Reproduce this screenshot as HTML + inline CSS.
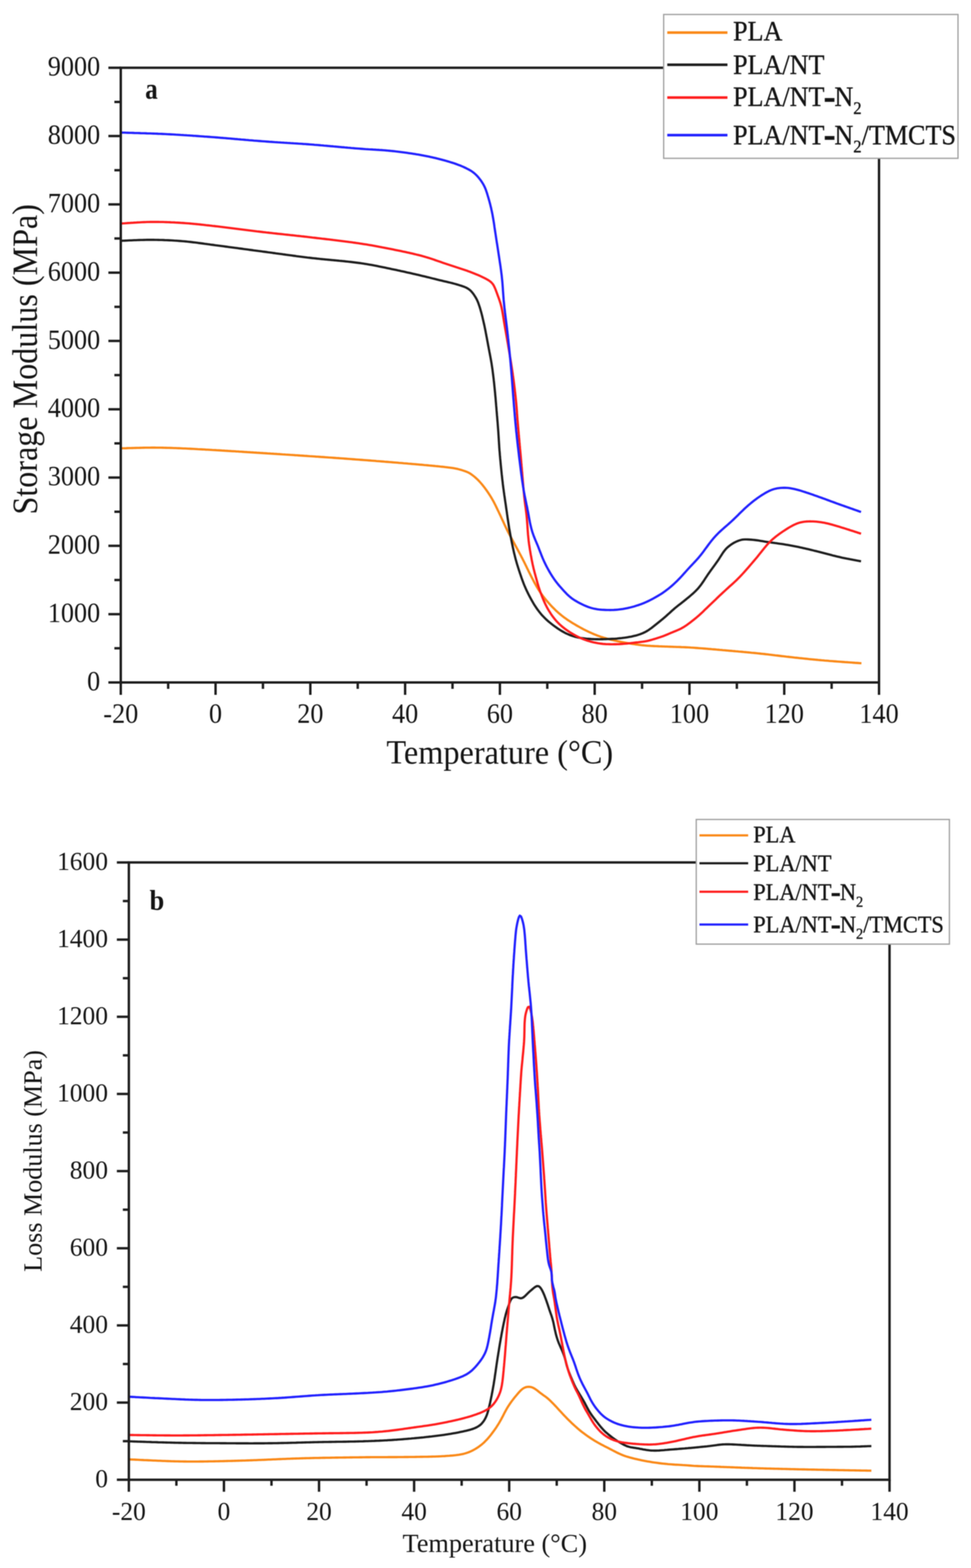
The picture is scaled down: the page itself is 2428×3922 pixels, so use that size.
<!DOCTYPE html>
<html><head><meta charset="utf-8"><title>Storage and loss modulus vs temperature</title>
<style>
html,body{margin:0;padding:0;background:#fff;}
body{width:2428px;height:3922px;overflow:hidden;}
svg{display:block;filter:blur(1.3px);font-family:"Liberation Serif","Times New Roman",serif;}
text{fill:#141414;}
</style></head><body>
<svg xmlns="http://www.w3.org/2000/svg" width="2428" height="3922" viewBox="0 0 2428 3922">
<rect width="2428" height="3922" fill="#fff"/>
<path d="M303 1121.4L307 1121.3 311 1121.2 315 1121.1 319 1120.9 323 1120.8 327 1120.7 331 1120.6 335 1120.5 339 1120.4 343 1120.3 347 1120.2 351 1120.1 355 1120 359 1119.9 363 1119.8 367 1119.8 371 1119.7 375 1119.7 379 1119.6 383 1119.6 387 1119.6 391 1119.7 395 1119.7 399 1119.7 403 1119.8 407 1119.9 410.9 1120 414.9 1120.1 418.9 1120.2 422.9 1120.3 426.9 1120.4 430.9 1120.5 434.9 1120.7 438.9 1120.8 442.9 1121 446.9 1121.1 450.9 1121.3 454.9 1121.5 458.9 1121.7 462.9 1121.8 466.9 1122 470.9 1122.2 474.9 1122.4 478.9 1122.6 482.9 1122.8 486.9 1123 490.9 1123.2 494.9 1123.5 498.8 1123.7 502.8 1123.9 506.8 1124.1 510.8 1124.3 514.8 1124.6 518.8 1124.8 522.8 1125 526.8 1125.2 530.8 1125.5 534.8 1125.7 538.8 1125.9 542.8 1126.2 546.8 1126.4 550.7 1126.6 554.7 1126.9 558.7 1127.1 562.7 1127.4 566.7 1127.6 570.7 1127.9 574.7 1128.1 578.7 1128.4 582.7 1128.6 586.7 1128.8 590.7 1129.1 594.7 1129.3 598.6 1129.6 602.6 1129.8 606.6 1130.1 610.6 1130.4 614.6 1130.6 618.6 1130.9 622.6 1131.1 626.6 1131.4 630.6 1131.6 634.6 1131.9 638.6 1132.1 642.5 1132.4 646.5 1132.6 650.5 1132.9 654.5 1133.1 658.5 1133.4 662.5 1133.6 666.5 1133.9 670.5 1134.2 674.5 1134.4 678.5 1134.7 682.5 1134.9 686.4 1135.2 690.4 1135.4 694.4 1135.7 698.4 1135.9 702.4 1136.2 706.4 1136.5 710.4 1136.7 714.4 1137 718.4 1137.2 722.4 1137.5 726.4 1137.8 730.3 1138 734.3 1138.3 738.3 1138.6 742.3 1138.8 746.3 1139.1 750.3 1139.4 754.3 1139.6 758.3 1139.9 762.3 1140.2 766.3 1140.4 770.2 1140.7 774.2 1141 778.2 1141.2 782.2 1141.5 786.2 1141.8 790.2 1142.1 794.2 1142.3 798.2 1142.6 802.2 1142.9 806.2 1143.1 810.1 1143.4 814.1 1143.7 818.1 1144 822.1 1144.3 826.1 1144.5 830.1 1144.8 834.1 1145.1 838.1 1145.4 842.1 1145.7 846 1145.9 850 1146.2 854 1146.5 858 1146.8 862 1147.1 866 1147.4 870 1147.7 874 1148 878 1148.3 881.9 1148.6 885.9 1148.9 889.9 1149.2 893.9 1149.5 897.9 1149.8 901.9 1150.1 905.9 1150.4 909.9 1150.7 913.8 1151 917.8 1151.3 921.8 1151.6 925.8 1151.9 929.8 1152.2 933.8 1152.5 937.8 1152.8 941.7 1153.2 945.7 1153.5 949.7 1153.8 953.7 1154.1 957.7 1154.4 961.7 1154.8 965.7 1155.1 969.7 1155.4 973.6 1155.7 977.6 1156 981.6 1156.4 985.6 1156.7 989.6 1157 993.6 1157.3 997.6 1157.7 1001.5 1158 1005.5 1158.3 1009.5 1158.7 1013.5 1159 1017.5 1159.3 1021.5 1159.7 1025.4 1160 1029.4 1160.4 1033.4 1160.7 1037.4 1161 1041.4 1161.4 1045.4 1161.7 1049.4 1162.1 1053.3 1162.4 1057.3 1162.8 1061.3 1163.2 1065.3 1163.5 1069.3 1163.9 1073.2 1164.3 1077.2 1164.6 1081.2 1165 1085.2 1165.4 1089.2 1165.8 1093.2 1166.1 1097.1 1166.5 1101.1 1167 1105.1 1167.4 1109.1 1167.8 1113 1168.3 1117 1168.7 1121 1169.2 1124.9 1169.7 1128.9 1170.2 1132.9 1170.8 1136.8 1171.5 1140.7 1172.2 1144.6 1173.1 1148.5 1174.1 1152.4 1175.2 1156.2 1176.4 1160 1177.6 1163.8 1178.9 1167.5 1180.3 1171.2 1182 1174.7 1183.9 1178 1186.1 1181.2 1188.4 1184.4 1190.9 1187.5 1193.4 1190.5 1196.1 1193.4 1198.8 1196.2 1201.6 1199 1204.5 1201.7 1207.5 1204.3 1210.5 1206.8 1213.6 1209.3 1216.7 1211.8 1219.9 1214.1 1223.1 1216.5 1226.3 1218.8 1229.6 1221 1232.9 1223.2 1236.3 1225.4 1239.6 1227.5 1243 1229.6 1246.5 1231.5 1249.9 1233.5 1253.4 1235.4 1256.9 1237.2 1260.5 1239 1264.1 1240.8 1267.7 1242.5 1271.3 1244.2 1274.9 1246 1278.5 1247.7 1282.1 1249.4 1285.7 1251.1 1289.3 1252.8 1293 1254.4 1296.6 1256.1 1300.2 1257.8 1303.8 1259.5 1307.5 1261.1 1311.1 1262.8 1314.7 1264.5 1318.4 1266.3 1322 1268 1325.6 1269.8 1329.1 1271.6 1332.7 1273.5 1336.2 1275.4 1339.8 1277.3 1343.3 1279.2 1346.8 1281.1 1350.3 1283 1353.8 1284.9 1357.3 1286.8 1360.8 1288.7 1364.4 1290.6 1367.9 1292.5 1371.4 1294.4 1374.9 1296.3 1378.4 1298.2 1382 1300.1 1385.5 1302 1389 1303.8 1392.6 1305.7 1396.1 1307.5 1399.7 1309.3 1403.2 1311.1 1406.8 1312.9 1410.4 1314.6 1414 1316.4 1417.6 1318.1 1421.2 1319.9 1424.8 1321.6 1428.4 1323.4 1432 1325.2 1435.6 1327 1439.1 1328.8 1442.7 1330.6 1446.2 1332.5 1449.8 1334.3 1453.3 1336.2 1456.8 1338.1 1460.4 1340.1 1463.8 1342 1467.3 1344.1 1470.8 1346.1 1474.2 1348.3 1477.6 1350.5 1480.9 1352.7 1484.2 1355.1 1487.5 1357.4 1490.7 1359.9 1493.8 1362.4 1497 1364.9 1500.1 1367.5 1503.1 1370.1 1506.1 1372.8 1509.1 1375.4 1512.1 1378.2 1515.1 1380.9 1518 1383.7 1520.8 1386.5 1523.6 1389.4 1526.4 1392.3 1529.2 1395.3 1531.8 1398.3 1534.5 1401.4 1537 1404.5 1539.6 1407.6 1542 1410.8 1544.4 1414.1 1546.8 1417.3 1549.1 1420.6 1551.3 1424 1553.5 1427.3 1555.7 1430.7 1557.8 1434.1 1559.9 1437.6 1561.9 1441 1564 1444.5 1566 1448 1567.9 1451.5 1569.9 1455 1571.8 1458.5 1573.7 1462.1 1575.5 1465.6 1577.3 1469.2 1579 1472.8 1580.8 1476.5 1582.4 1480.1 1584 1483.8 1585.6 1487.5 1587.2 1491.2 1588.6 1494.9 1590.1 1498.7 1591.4 1502.5 1592.8 1506.3 1594 1510.1 1595.2 1513.9 1596.3 1517.8 1597.4 1521.6 1598.5 1525.5 1599.5 1529.4 1600.4 1533.3 1601.3 1537.2 1602.2 1541.1 1603.1 1545 1604 1548.9 1604.8 1552.8 1605.6 1556.7 1606.3 1560.7 1607.1 1564.6 1607.8 1568.6 1608.5 1572.5 1609.1 1576.4 1609.8 1580.4 1610.4 1584.4 1611 1588.3 1611.6 1592.3 1612.1 1596.2 1612.7 1600.2 1613.2 1604.2 1613.7 1608.1 1614.1 1612.1 1614.5 1616.1 1614.9 1620.1 1615.2 1624.1 1615.4 1628.1 1615.7 1632.1 1615.9 1636.1 1616.1 1640.1 1616.3 1644 1616.4 1648 1616.6 1652 1616.7 1656 1616.9 1660 1617 1664 1617.2 1668 1617.3 1672 1617.5 1676 1617.6 1680 1617.7 1684 1617.9 1688 1618 1692 1618.2 1696 1618.3 1700 1618.4 1704 1618.6 1708 1618.7 1712 1618.9 1716 1619.1 1720 1619.3 1724 1619.5 1728 1619.8 1731.9 1620 1735.9 1620.3 1739.9 1620.6 1743.9 1620.9 1747.9 1621.2 1751.9 1621.5 1755.9 1621.8 1759.9 1622.1 1763.9 1622.4 1767.8 1622.7 1771.8 1623.1 1775.8 1623.4 1779.8 1623.8 1783.8 1624.1 1787.8 1624.4 1791.7 1624.8 1795.7 1625.1 1799.7 1625.5 1803.7 1625.8 1807.7 1626.2 1811.7 1626.5 1815.6 1626.9 1819.6 1627.2 1823.6 1627.6 1827.6 1627.9 1831.6 1628.3 1835.6 1628.6 1839.5 1629 1843.5 1629.3 1847.5 1629.7 1851.5 1630 1855.5 1630.4 1859.5 1630.8 1863.4 1631.1 1867.4 1631.5 1871.4 1631.9 1875.4 1632.3 1879.4 1632.7 1883.3 1633 1887.3 1633.4 1891.3 1633.8 1895.3 1634.2 1899.3 1634.6 1903.2 1635.1 1907.2 1635.5 1911.2 1635.9 1915.2 1636.4 1919.1 1636.8 1923.1 1637.3 1927.1 1637.7 1931.1 1638.2 1935 1638.7 1939 1639.2 1943 1639.6 1946.9 1640.1 1950.9 1640.6 1954.9 1641.1 1958.9 1641.5 1962.8 1642 1966.8 1642.5 1970.8 1642.9 1974.7 1643.4 1978.7 1643.8 1982.7 1644.2 1986.7 1644.7 1990.6 1645.1 1994.6 1645.5 1998.6 1646 2002.6 1646.4 2006.5 1646.8 2010.5 1647.2 2014.5 1647.6 2018.5 1648 2022.5 1648.5 2026.4 1648.9 2030.4 1649.2 2034.4 1649.6 2038.4 1650 2042.4 1650.4 2046.3 1650.8 2050.3 1651.1 2054.3 1651.5 2058.3 1651.8 2062.3 1652.2 2066.3 1652.5 2070.2 1652.8 2074.2 1653.2 2078.2 1653.5 2082.2 1653.8 2086.2 1654.1 2090.2 1654.4 2094.2 1654.7 2098.2 1655 2102.1 1655.3 2106.1 1655.6 2110.1 1655.9 2114.1 1656.2 2118.1 1656.4 2122.1 1656.7 2126.1 1657 2130.1 1657.3 2134.1 1657.6 2138 1657.9 2142 1658.1 2146 1658.4 2150 1658.7 2154 1659" fill="none" stroke="#fa8816" stroke-width="5.6" stroke-linejoin="round"/>
<path d="M304 602.2L308 602 312 601.9 316 601.7 320 601.5 324 601.3 328 601.2 332 601 336 600.8 340 600.7 344 600.5 348 600.4 352 600.3 356 600.2 360 600.1 364 600 368 599.9 372 599.9 376 599.9 380 599.9 384 599.9 388 600 392 600 396 600.1 400 600.2 404 600.3 408 600.4 412 600.6 416 600.7 420 600.9 423.9 601.1 427.9 601.3 431.9 601.5 435.9 601.8 439.9 602 443.9 602.3 447.9 602.6 451.9 602.9 455.9 603.2 459.9 603.5 463.8 603.9 467.8 604.3 471.8 604.7 475.8 605.1 479.8 605.6 483.7 606.1 487.7 606.5 491.7 607 495.6 607.6 499.6 608.1 503.6 608.6 507.5 609.1 511.5 609.7 515.5 610.2 519.4 610.8 523.4 611.3 527.4 611.9 531.3 612.4 535.3 612.9 539.2 613.5 543.2 614 547.2 614.5 551.1 615 555.1 615.5 559.1 616.1 563 616.6 567 617.1 571 617.7 574.9 618.2 578.9 618.7 582.9 619.2 586.8 619.8 590.8 620.3 594.8 620.8 598.7 621.4 602.7 621.9 606.7 622.4 610.6 623 614.6 623.5 618.6 624 622.5 624.6 626.5 625.1 630.4 625.6 634.4 626.2 638.4 626.7 642.3 627.2 646.3 627.8 650.3 628.3 654.2 628.8 658.2 629.4 662.2 629.9 666.1 630.4 670.1 631 674.1 631.5 678 632 682 632.6 686 633.1 689.9 633.7 693.9 634.2 697.8 634.8 701.8 635.3 705.8 635.8 709.7 636.4 713.7 636.9 717.7 637.5 721.6 638 725.6 638.5 729.6 639.1 733.5 639.6 737.5 640.1 741.4 640.7 745.4 641.2 749.4 641.7 753.4 642.2 757.3 642.7 761.3 643.2 765.3 643.7 769.2 644.2 773.2 644.6 777.2 645.1 781.1 645.6 785.1 646 789.1 646.4 793.1 646.9 797.1 647.3 801 647.7 805 648.1 809 648.5 813 648.9 817 649.2 820.9 649.6 824.9 650 828.9 650.4 832.9 650.7 836.9 651.1 840.9 651.5 844.8 651.9 848.8 652.3 852.8 652.6 856.8 653 860.8 653.4 864.7 653.9 868.7 654.3 872.7 654.7 876.7 655.1 880.7 655.6 884.6 656.1 888.6 656.6 892.6 657.1 896.5 657.6 900.5 658.1 904.5 658.7 908.4 659.3 912.4 659.9 916.3 660.6 920.3 661.2 924.2 661.9 928.1 662.6 932.1 663.3 936 664.1 939.9 664.8 943.8 665.6 947.8 666.4 951.7 667.2 955.6 668 959.5 668.8 963.5 669.6 967.4 670.4 971.3 671.2 975.2 672 979.1 672.9 983 673.7 986.9 674.5 990.9 675.3 994.8 676.2 998.7 677 1002.6 677.9 1006.5 678.7 1010.4 679.6 1014.3 680.5 1018.2 681.4 1022.1 682.2 1026 683.1 1029.9 684 1033.8 684.9 1037.7 685.8 1041.6 686.7 1045.5 687.6 1049.4 688.5 1053.3 689.5 1057.2 690.4 1061.1 691.3 1065 692.2 1068.8 693.2 1072.7 694.1 1076.6 695.1 1080.5 696.1 1084.4 697.1 1088.3 698 1092.1 699 1096 700 1099.9 700.9 1103.8 701.8 1107.7 702.8 1111.6 703.7 1115.5 704.6 1119.4 705.5 1123.3 706.4 1127.2 707.4 1131 708.3 1134.9 709.4 1138.8 710.4 1142.6 711.5 1146.5 712.6 1150.3 713.8 1154.1 715 1157.9 716.3 1161.6 717.7 1165.3 719.3 1168.8 721.2 1172.2 723.4 1175.3 725.8 1178.2 728.6 1180.9 731.6 1183.3 734.7 1185.6 738 1187.8 741.4 1189.9 744.8 1191.8 748.3 1193.5 751.9 1195.1 755.6 1196.5 759.3 1197.8 763.1 1199.1 766.9 1200.3 770.7 1201.4 774.5 1202.5 778.4 1203.6 782.3 1204.6 786.1 1205.6 790 1206.5 793.9 1207.4 797.8 1208.3 801.7 1209.2 805.6 1210.1 809.5 1211 813.4 1211.8 817.3 1212.6 821.2 1213.4 825.1 1214.2 829.1 1214.9 833 1215.7 836.9 1216.4 840.9 1217.2 844.8 1217.9 848.7 1218.6 852.6 1219.4 856.6 1220.1 860.5 1220.8 864.4 1221.6 868.4 1222.3 872.3 1223.1 876.2 1223.8 880.2 1224.6 884.1 1225.3 888 1226.1 892 1226.8 895.9 1227.5 899.8 1228.2 903.8 1228.9 907.7 1229.5 911.7 1230.1 915.6 1230.7 919.6 1231.3 923.5 1231.8 927.5 1232.3 931.5 1232.8 935.4 1233.3 939.4 1233.8 943.4 1234.3 947.3 1234.7 951.3 1235.2 955.3 1235.6 959.3 1236 963.2 1236.4 967.2 1236.8 971.2 1237.2 975.2 1237.6 979.2 1238 983.2 1238.3 987.1 1238.7 991.1 1239.1 995.1 1239.4 999.1 1239.7 1003.1 1240.1 1007.1 1240.4 1011 1240.7 1015 1241.1 1019 1241.4 1023 1241.7 1027 1242.1 1031 1242.4 1035 1242.7 1039 1243.1 1042.9 1243.4 1046.9 1243.7 1050.9 1244.1 1054.9 1244.4 1058.9 1244.7 1062.9 1245 1066.9 1245.3 1070.9 1245.6 1074.8 1245.9 1078.8 1246.2 1082.8 1246.4 1086.8 1246.7 1090.8 1246.9 1094.8 1247.2 1098.8 1247.4 1102.8 1247.7 1106.8 1247.9 1110.8 1248.2 1114.8 1248.4 1118.8 1248.7 1122.7 1249 1126.7 1249.4 1130.7 1249.7 1134.7 1250 1138.7 1250.4 1142.7 1250.7 1146.7 1251.1 1150.6 1251.5 1154.6 1251.8 1158.6 1252.2 1162.6 1252.6 1166.6 1253 1170.6 1253.4 1174.5 1253.8 1178.5 1254.2 1182.5 1254.6 1186.5 1255.1 1190.5 1255.5 1194.4 1255.9 1198.4 1256.4 1202.4 1256.9 1206.4 1257.3 1210.3 1257.8 1214.3 1258.3 1218.3 1258.8 1222.2 1259.4 1226.2 1259.9 1230.2 1260.5 1234.1 1261 1238.1 1261.6 1242 1262.2 1246 1262.7 1250 1263.3 1253.9 1263.9 1257.9 1264.5 1261.8 1265.1 1265.8 1265.6 1269.8 1266.2 1273.7 1266.8 1277.7 1267.4 1281.6 1267.9 1285.6 1268.5 1289.6 1269 1293.5 1269.6 1297.5 1270.2 1301.4 1270.8 1305.4 1271.4 1309.3 1272 1313.3 1272.6 1317.3 1273.2 1321.2 1273.9 1325.1 1274.6 1329.1 1275.3 1333 1276 1337 1276.7 1340.9 1277.5 1344.8 1278.2 1348.8 1279 1352.7 1279.8 1356.6 1280.6 1360.5 1281.4 1364.4 1282.2 1368.4 1283.1 1372.3 1283.9 1376.2 1284.8 1380.1 1285.7 1384 1286.7 1387.9 1287.6 1391.7 1288.6 1395.6 1289.6 1399.5 1290.7 1403.3 1291.8 1407.2 1292.9 1411 1294.1 1414.8 1295.3 1418.7 1296.5 1422.5 1297.7 1426.3 1299 1430.1 1300.2 1433.9 1301.5 1437.7 1302.8 1441.5 1304.1 1445.3 1305.4 1449 1306.8 1452.8 1308.2 1456.5 1309.6 1460.3 1311.1 1464 1312.7 1467.7 1314.3 1471.3 1315.9 1475 1317.6 1478.6 1319.4 1482.2 1321.1 1485.8 1322.9 1489.3 1324.8 1492.9 1326.7 1496.4 1328.6 1499.9 1330.6 1503.4 1332.6 1506.9 1334.6 1510.3 1336.7 1513.7 1338.9 1517.1 1341.1 1520.4 1343.4 1523.7 1345.8 1526.9 1348.2 1530.1 1350.7 1533.2 1353.2 1536.3 1355.9 1539.3 1358.6 1542.2 1361.4 1545.1 1364.3 1547.9 1367.2 1550.6 1370.2 1553.3 1373.2 1555.9 1376.3 1558.4 1379.4 1560.9 1382.6 1563.4 1385.8 1565.8 1389 1568.1 1392.3 1570.4 1395.6 1572.7 1399 1574.9 1402.3 1577 1405.8 1579 1409.3 1581 1412.8 1582.9 1416.4 1584.7 1420 1586.3 1423.7 1587.9 1427.4 1589.4 1431.2 1590.7 1435 1591.9 1438.9 1593 1442.7 1593.9 1446.7 1594.7 1450.6 1595.4 1454.5 1596.1 1458.5 1596.6 1462.5 1597.1 1466.5 1597.5 1470.4 1597.8 1474.4 1598.1 1478.4 1598.4 1482.4 1598.6 1486.4 1598.8 1490.4 1598.9 1494.4 1598.9 1498.4 1599 1502.4 1598.9 1506.4 1598.9 1510.4 1598.7 1514.4 1598.6 1518.4 1598.5 1522.4 1598.3 1526.4 1598.1 1530.4 1597.9 1534.4 1597.7 1538.4 1597.5 1542.4 1597.2 1546.4 1596.8 1550.3 1596.4 1554.3 1596 1558.3 1595.5 1562.3 1595 1566.2 1594.4 1570.2 1593.8 1574.1 1593.1 1578 1592.4 1582 1591.5 1585.9 1590.6 1589.7 1589.7 1593.6 1588.6 1597.4 1587.4 1601.2 1586.1 1604.9 1584.7 1608.6 1583.1 1612.2 1581.4 1615.8 1579.5 1619.2 1577.5 1622.6 1575.3 1625.8 1573 1629.1 1570.7 1632.2 1568.2 1635.4 1565.8 1638.5 1563.3 1641.7 1560.8 1644.8 1558.3 1647.9 1555.8 1651 1553.3 1654.1 1550.7 1657.2 1548.2 1660.2 1545.6 1663.3 1543 1666.3 1540.3 1669.2 1537.7 1672.2 1535 1675.2 1532.3 1678.1 1529.6 1681.1 1526.9 1684.1 1524.3 1687.1 1521.6 1690.2 1519.1 1693.3 1516.6 1696.4 1514.1 1699.6 1511.7 1702.8 1509.2 1705.9 1506.8 1709.1 1504.3 1712.2 1501.8 1715.3 1499.3 1718.4 1496.7 1721.5 1494.2 1724.6 1491.6 1727.6 1489 1730.6 1486.4 1733.6 1483.8 1736.6 1481 1739.4 1478.3 1742.2 1475.4 1745 1472.5 1747.6 1469.4 1750.1 1466.3 1752.5 1463.2 1754.9 1459.9 1757.1 1456.6 1759.4 1453.3 1761.6 1450 1763.8 1446.6 1766 1443.3 1768.2 1440 1770.4 1436.6 1772.7 1433.3 1775 1430.1 1777.3 1426.8 1779.7 1423.6 1782 1420.4 1784.4 1417.1 1786.8 1413.9 1789.1 1410.7 1791.4 1407.4 1793.7 1404.1 1796 1400.8 1798.2 1397.5 1800.3 1394.1 1802.5 1390.7 1804.6 1387.4 1806.8 1384 1809.1 1380.7 1811.5 1377.5 1814 1374.4 1816.7 1371.5 1819.6 1368.7 1822.7 1366.2 1825.9 1363.7 1829.2 1361.4 1832.5 1359.3 1836 1357.3 1839.6 1355.5 1843.2 1353.8 1846.9 1352.3 1850.7 1351.1 1854.6 1350.1 1858.5 1349.5 1862.5 1349.3 1866.5 1349.2 1870.5 1349.4 1874.5 1349.6 1878.5 1349.9 1882.5 1350.2 1886.5 1350.6 1890.5 1351.1 1894.4 1351.6 1898.4 1352.3 1902.3 1352.9 1906.3 1353.6 1910.2 1354.2 1914.2 1354.9 1918.1 1355.5 1922.1 1356 1926 1356.6 1930 1357.2 1934 1357.7 1937.9 1358.3 1941.9 1358.8 1945.8 1359.4 1949.8 1360 1953.8 1360.5 1957.7 1361.1 1961.7 1361.8 1965.6 1362.4 1969.6 1363 1973.5 1363.7 1977.4 1364.4 1981.4 1365.2 1985.3 1365.9 1989.2 1366.7 1993.2 1367.5 1997.1 1368.3 2001 1369.2 2004.9 1370 2008.8 1370.9 2012.7 1371.8 2016.6 1372.7 2020.5 1373.6 2024.4 1374.5 2028.3 1375.5 2032.1 1376.4 2036 1377.4 2039.9 1378.3 2043.8 1379.3 2047.7 1380.2 2051.6 1381.2 2055.4 1382.2 2059.3 1383.2 2063.2 1384.2 2067 1385.3 2070.9 1386.3 2074.8 1387.3 2078.6 1388.3 2082.5 1389.4 2086.4 1390.3 2090.3 1391.3 2094.2 1392.2 2098.1 1393.1 2102 1394 2105.9 1394.9 2109.8 1395.7 2113.7 1396.5 2117.6 1397.3 2121.6 1398 2125.5 1398.8 2129.4 1399.5 2133.3 1400.3 2137.3 1401 2141.2 1401.8 2145.1 1402.5 2149.1 1403.3 2153 1404" fill="none" stroke="#1c1c1c" stroke-width="5.6" stroke-linejoin="round"/>
<path d="M304 559L308 558.7 312 558.5 316 558.2 320 557.9 324 557.7 327.9 557.4 331.9 557.2 335.9 556.9 339.9 556.7 343.9 556.4 347.9 556.2 351.9 556 355.9 555.8 359.9 555.6 363.9 555.5 367.9 555.3 371.9 555.2 375.9 555.1 379.9 555.1 383.9 555.1 387.9 555 391.9 555.1 395.9 555.1 399.9 555.2 403.9 555.2 407.9 555.3 411.9 555.5 415.9 555.6 419.9 555.7 423.9 555.9 427.9 556.1 431.9 556.2 435.9 556.4 439.8 556.7 443.8 556.9 447.8 557.1 451.8 557.4 455.8 557.6 459.8 557.9 463.8 558.2 467.8 558.5 471.8 558.8 475.8 559.1 479.7 559.5 483.7 559.9 487.7 560.2 491.7 560.6 495.7 561 499.6 561.4 503.6 561.9 507.6 562.3 511.6 562.7 515.6 563.2 519.5 563.6 523.5 564 527.5 564.5 531.4 565 535.4 565.4 539.4 565.9 543.4 566.3 547.3 566.8 551.3 567.3 555.3 567.7 559.3 568.2 563.2 568.7 567.2 569.2 571.2 569.7 575.1 570.2 579.1 570.7 583.1 571.2 587 571.7 591 572.2 595 572.7 598.9 573.2 602.9 573.7 606.9 574.2 610.8 574.7 614.8 575.2 618.8 575.7 622.7 576.2 626.7 576.7 630.7 577.2 634.7 577.7 638.6 578.2 642.6 578.7 646.6 579.1 650.5 579.6 654.5 580.1 658.5 580.6 662.5 581 666.4 581.5 670.4 581.9 674.4 582.4 678.4 582.8 682.3 583.3 686.3 583.7 690.3 584.1 694.3 584.6 698.2 585 702.2 585.4 706.2 585.8 710.2 586.3 714.1 586.7 718.1 587.1 722.1 587.5 726.1 588 730 588.4 734 588.8 738 589.2 742 589.7 746 590.1 749.9 590.5 753.9 591 757.9 591.4 761.9 591.9 765.8 592.3 769.8 592.8 773.8 593.2 777.7 593.7 781.7 594.2 785.7 594.6 789.7 595.1 793.6 595.6 797.6 596 801.6 596.5 805.6 597 809.5 597.4 813.5 597.9 817.5 598.4 821.4 598.8 825.4 599.3 829.4 599.8 833.4 600.3 837.3 600.7 841.3 601.2 845.3 601.7 849.2 602.2 853.2 602.7 857.2 603.2 861.1 603.7 865.1 604.2 869.1 604.7 873 605.3 877 605.8 881 606.3 884.9 606.9 888.9 607.4 892.9 608 896.8 608.6 900.8 609.2 904.7 609.7 908.7 610.4 912.6 611 916.6 611.6 920.5 612.3 924.5 612.9 928.4 613.6 932.3 614.3 936.3 615 940.2 615.7 944.2 616.4 948.1 617.2 952 617.9 955.9 618.7 959.9 619.4 963.8 620.2 967.7 621 971.6 621.8 975.6 622.5 979.5 623.3 983.4 624.1 987.3 624.9 991.2 625.7 995.2 626.5 999.1 627.3 1003 628.1 1006.9 629 1010.8 629.8 1014.7 630.6 1018.6 631.5 1022.6 632.3 1026.5 633.2 1030.4 634.1 1034.2 635 1038.1 635.9 1042 636.9 1045.9 637.8 1049.8 638.8 1053.7 639.8 1057.5 640.9 1061.4 642 1065.2 643.1 1069 644.2 1072.9 645.4 1076.7 646.6 1080.5 647.9 1084.3 649.2 1088 650.5 1091.8 651.8 1095.6 653.1 1099.4 654.4 1103.1 655.7 1106.9 657.1 1110.7 658.4 1114.5 659.7 1118.3 660.9 1122.1 662.2 1125.9 663.4 1129.7 664.7 1133.5 665.9 1137.3 667.1 1141.1 668.4 1144.9 669.6 1148.7 670.8 1152.5 672.1 1156.3 673.3 1160.1 674.6 1163.9 675.9 1167.7 677.2 1171.4 678.6 1175.2 679.9 1178.9 681.4 1182.7 682.8 1186.4 684.3 1190.1 685.8 1193.8 687.3 1197.4 688.9 1201.1 690.5 1204.7 692.2 1208.3 694 1211.9 695.8 1215.4 697.6 1218.9 699.5 1222.4 701.6 1225.6 703.9 1228.7 706.5 1231.4 709.5 1233.7 712.7 1235.6 716.2 1237.3 719.8 1238.9 723.5 1240.3 727.3 1241.7 731 1243.1 734.8 1244.4 738.5 1245.8 742.3 1247.2 746 1248.5 749.8 1249.8 753.6 1251 757.4 1252.1 761.2 1253.1 765.1 1254.1 769 1254.9 772.9 1255.7 776.8 1256.4 780.8 1257.1 784.7 1257.8 788.7 1258.4 792.6 1259 796.6 1259.7 800.5 1260.3 804.5 1261 808.4 1261.6 812.3 1262.3 816.3 1263 820.2 1263.7 824.2 1264.4 828.1 1265.1 832 1265.8 836 1266.5 839.9 1267.2 843.9 1267.9 847.8 1268.5 851.7 1269.2 855.7 1269.9 859.6 1270.6 863.6 1271.2 867.5 1271.9 871.4 1272.6 875.4 1273.2 879.3 1273.9 883.3 1274.5 887.2 1275.2 891.2 1275.8 895.1 1276.5 899.1 1277.1 903 1277.8 907 1278.4 910.9 1279 914.9 1279.6 918.8 1280.2 922.8 1280.8 926.7 1281.4 930.7 1282 934.6 1282.5 938.6 1283.1 942.6 1283.6 946.5 1284.2 950.5 1284.7 954.5 1285.2 958.4 1285.7 962.4 1286.2 966.4 1286.7 970.3 1287.2 974.3 1287.6 978.3 1288.1 982.2 1288.5 986.2 1289 990.2 1289.4 994.2 1289.8 998.2 1290.2 1002.1 1290.6 1006.1 1291 1010.1 1291.3 1014.1 1291.7 1018.1 1292 1022.1 1292.3 1026 1292.6 1030 1292.8 1034 1293.1 1038 1293.4 1042 1293.7 1046 1294 1050 1294.4 1054 1294.7 1057.9 1295 1061.9 1295.4 1065.9 1295.7 1069.9 1296.1 1073.9 1296.4 1077.9 1296.8 1081.9 1297.1 1085.8 1297.5 1089.8 1297.8 1093.8 1298.2 1097.8 1298.6 1101.8 1298.9 1105.8 1299.3 1109.7 1299.6 1113.7 1300 1117.7 1300.3 1121.7 1300.7 1125.7 1301.1 1129.7 1301.4 1133.6 1301.8 1137.6 1302.1 1141.6 1302.5 1145.6 1302.8 1149.6 1303.2 1153.6 1303.5 1157.5 1303.9 1161.5 1304.2 1165.5 1304.6 1169.5 1304.9 1173.5 1305.2 1177.5 1305.6 1181.5 1305.9 1185.4 1306.2 1189.4 1306.5 1193.4 1306.9 1197.4 1307.2 1201.4 1307.5 1205.4 1307.9 1209.4 1308.2 1213.3 1308.5 1217.3 1308.9 1221.3 1309.2 1225.3 1309.6 1229.3 1310 1233.3 1310.4 1237.2 1310.7 1241.2 1311.2 1245.2 1311.6 1249.2 1312.1 1253.2 1312.6 1257.1 1313.1 1261.1 1313.6 1265.1 1314.2 1269 1314.7 1273 1315.2 1276.9 1315.7 1280.9 1316.2 1284.9 1316.6 1288.9 1317 1292.8 1317.4 1296.8 1317.7 1300.8 1318 1304.8 1318.3 1308.8 1318.6 1312.8 1318.9 1316.8 1319.1 1320.8 1319.4 1324.7 1319.7 1328.7 1320 1332.7 1320.3 1336.7 1320.7 1340.7 1321.1 1344.7 1321.5 1348.7 1321.9 1352.6 1322.4 1356.6 1322.9 1360.6 1323.5 1364.5 1324.1 1368.5 1324.7 1372.4 1325.3 1376.4 1326 1380.3 1326.6 1384.3 1327.3 1388.2 1328.1 1392.1 1328.8 1396.1 1329.5 1400 1330.3 1403.9 1331.1 1407.9 1331.9 1411.8 1332.8 1415.7 1333.7 1419.6 1334.6 1423.5 1335.6 1427.3 1336.6 1431.2 1337.6 1435.1 1338.7 1438.9 1339.7 1442.8 1340.8 1446.6 1341.9 1450.5 1342.9 1454.4 1344 1458.2 1345.1 1462.1 1346.2 1465.9 1347.4 1469.7 1348.7 1473.5 1350 1477.3 1351.3 1481.1 1352.7 1484.8 1354.1 1488.6 1355.5 1492.3 1357 1496 1358.5 1499.7 1360.1 1503.4 1361.7 1507 1363.4 1510.7 1365.2 1514.3 1367 1517.8 1368.9 1521.3 1370.9 1524.8 1372.9 1528.2 1375.1 1531.6 1377.2 1535 1379.5 1538.3 1381.8 1541.6 1384.2 1544.8 1386.6 1547.9 1389.2 1551 1391.8 1554 1394.6 1556.9 1397.4 1559.7 1400.3 1562.5 1403.3 1565.2 1406.3 1567.8 1409.5 1570.3 1412.6 1572.7 1415.8 1575.1 1419.1 1577.4 1422.4 1579.6 1425.8 1581.8 1429.2 1583.9 1432.6 1586 1436.1 1588 1439.6 1589.9 1443.1 1591.8 1446.7 1593.6 1450.3 1595.3 1454 1596.9 1457.6 1598.4 1461.4 1599.9 1465.1 1601.2 1468.9 1602.5 1472.8 1603.6 1476.6 1604.7 1480.5 1605.8 1484.4 1606.7 1488.3 1607.5 1492.2 1608.3 1496.1 1609 1500.1 1609.6 1504.1 1610.1 1508 1610.6 1512 1610.9 1516 1611.2 1520 1611.3 1524 1611.4 1528 1611.5 1532 1611.5 1536 1611.4 1540 1611.4 1544 1611.2 1548 1611.1 1552 1610.9 1556 1610.6 1560 1610.3 1564 1610 1567.9 1609.6 1571.9 1609.2 1575.9 1608.8 1579.9 1608.3 1583.8 1607.9 1587.8 1607.4 1591.8 1606.9 1595.8 1606.5 1599.7 1606 1603.7 1605.5 1607.7 1605 1611.6 1604.4 1615.6 1603.7 1619.5 1602.9 1623.4 1602 1627.2 1601 1631.1 1599.9 1634.9 1598.7 1638.7 1597.6 1642.6 1596.3 1646.4 1595.1 1650.2 1593.9 1654 1592.6 1657.7 1591.3 1661.5 1589.9 1665.2 1588.4 1668.9 1586.9 1672.6 1585.3 1676.2 1583.7 1679.9 1582.2 1683.6 1580.6 1687.3 1579.1 1691 1577.6 1694.7 1576 1698.4 1574.4 1702 1572.7 1705.5 1570.8 1709 1568.8 1712.4 1566.7 1715.7 1564.5 1718.9 1562.2 1722.2 1559.8 1725.4 1557.4 1728.5 1555 1731.7 1552.5 1734.9 1550 1738 1547.5 1741.1 1545 1744.1 1542.4 1747.1 1539.8 1750.1 1537.1 1753.1 1534.4 1756 1531.7 1758.9 1528.9 1761.7 1526.1 1764.6 1523.3 1767.5 1520.6 1770.4 1517.8 1773.2 1515 1776.1 1512.2 1779 1509.5 1781.9 1506.7 1784.8 1503.9 1787.7 1501.2 1790.6 1498.4 1793.4 1495.6 1796.3 1492.9 1799.2 1490.1 1802.1 1487.4 1805.1 1484.6 1808 1481.9 1810.9 1479.2 1813.9 1476.5 1816.8 1473.8 1819.8 1471.1 1822.7 1468.4 1825.7 1465.7 1828.7 1463.1 1831.7 1460.4 1834.6 1457.7 1837.5 1455 1840.5 1452.2 1843.3 1449.4 1846.2 1446.6 1849 1443.8 1851.7 1440.9 1854.5 1438 1857.2 1435 1859.9 1432.1 1862.5 1429.1 1865.2 1426.1 1867.8 1423.1 1870.5 1420.1 1873.1 1417.1 1875.7 1414 1878.3 1411 1880.9 1408 1883.5 1404.9 1886.1 1401.9 1888.7 1398.8 1891.3 1395.7 1893.8 1392.7 1896.3 1389.6 1898.8 1386.4 1901.3 1383.3 1903.8 1380.2 1906.3 1377 1908.8 1373.9 1911.3 1370.8 1913.9 1367.7 1916.4 1364.7 1919.1 1361.7 1921.8 1358.7 1924.6 1355.9 1927.4 1353.1 1930.4 1350.3 1933.3 1347.7 1936.4 1345.1 1939.5 1342.5 1942.6 1340.1 1945.8 1337.7 1949.1 1335.3 1952.3 1333 1955.6 1330.7 1958.9 1328.5 1962.3 1326.3 1965.6 1324.1 1969 1322 1972.4 1319.9 1975.9 1317.9 1979.4 1315.9 1982.9 1314.1 1986.5 1312.3 1990.1 1310.7 1993.9 1309.2 1997.6 1307.9 2001.5 1306.8 2005.4 1305.9 2009.3 1305.2 2013.3 1304.7 2017.3 1304.4 2021.3 1304.2 2025.3 1304.1 2029.3 1304.2 2033.3 1304.3 2037.3 1304.5 2041.3 1304.8 2045.2 1305.2 2049.2 1305.7 2053.2 1306.2 2057.1 1306.9 2061 1307.6 2065 1308.4 2068.9 1309.3 2072.8 1310.3 2076.6 1311.2 2080.5 1312.3 2084.3 1313.4 2088.2 1314.5 2092 1315.6 2095.9 1316.7 2099.7 1317.9 2103.5 1319.1 2107.3 1320.3 2111.1 1321.4 2115 1322.6 2118.8 1323.8 2122.6 1325 2126.4 1326.3 2130.2 1327.5 2134 1328.7 2137.8 1330 2141.6 1331.2 2145.4 1332.5 2149.2 1333.7 2153 1335" fill="none" stroke="#ff1c1c" stroke-width="5.6" stroke-linejoin="round"/>
<path d="M304 331.6L308 331.7 312 331.8 316 332 320 332.1 324 332.2 328 332.3 332 332.4 336 332.6 340 332.7 344 332.8 348 332.9 352 333.1 356 333.2 359.9 333.3 363.9 333.4 367.9 333.6 371.9 333.7 375.9 333.8 379.9 334 383.9 334.1 387.9 334.3 391.9 334.4 395.9 334.6 399.9 334.7 403.9 334.9 407.9 335.1 411.9 335.3 415.9 335.5 419.9 335.7 423.9 335.9 427.9 336.1 431.8 336.3 435.8 336.5 439.8 336.8 443.8 337 447.8 337.2 451.8 337.5 455.8 337.7 459.8 338 463.8 338.2 467.8 338.5 471.8 338.7 475.7 339 479.7 339.3 483.7 339.6 487.7 339.8 491.7 340.1 495.7 340.4 499.7 340.7 503.7 341 507.7 341.3 511.6 341.6 515.6 341.8 519.6 342.1 523.6 342.4 527.6 342.7 531.6 343 535.6 343.3 539.5 343.6 543.5 343.9 547.5 344.2 551.5 344.6 555.5 344.9 559.5 345.2 563.5 345.5 567.4 345.9 571.4 346.2 575.4 346.5 579.4 346.9 583.4 347.2 587.4 347.6 591.3 347.9 595.3 348.3 599.3 348.6 603.3 349 607.3 349.3 611.3 349.6 615.2 350 619.2 350.3 623.2 350.7 627.2 351 631.2 351.3 635.2 351.7 639.2 352 643.1 352.3 647.1 352.6 651.1 352.9 655.1 353.2 659.1 353.5 663.1 353.8 667.1 354.1 671 354.4 675 354.7 679 354.9 683 355.2 687 355.5 691 355.7 695 356 699 356.2 703 356.5 707 356.7 710.9 357 714.9 357.2 718.9 357.5 722.9 357.7 726.9 358 730.9 358.2 734.9 358.5 738.9 358.7 742.9 359 746.9 359.3 750.8 359.5 754.8 359.8 758.8 360.1 762.8 360.3 766.8 360.6 770.8 360.9 774.8 361.2 778.8 361.5 782.7 361.8 786.7 362.2 790.7 362.5 794.7 362.8 798.7 363.1 802.7 363.5 806.7 363.8 810.6 364.2 814.6 364.5 818.6 364.9 822.6 365.2 826.6 365.6 830.5 365.9 834.5 366.3 838.5 366.6 842.5 367 846.5 367.4 850.5 367.7 854.4 368.1 858.4 368.4 862.4 368.8 866.4 369.1 870.4 369.5 874.4 369.8 878.3 370.2 882.3 370.5 886.3 370.9 890.3 371.2 894.3 371.5 898.3 371.8 902.2 372.1 906.2 372.4 910.2 372.7 914.2 373 918.2 373.2 922.2 373.5 926.2 373.7 930.2 373.9 934.2 374.2 938.2 374.4 942.1 374.7 946.1 374.9 950.1 375.2 954.1 375.4 958.1 375.7 962.1 376 966.1 376.4 970.1 376.7 974 377.1 978 377.5 982 377.9 986 378.3 989.9 378.8 993.9 379.2 997.9 379.7 1001.8 380.2 1005.8 380.7 1009.8 381.3 1013.7 381.8 1017.7 382.3 1021.7 382.9 1025.6 383.5 1029.6 384.1 1033.5 384.7 1037.5 385.3 1041.4 386 1045.4 386.6 1049.3 387.3 1053.2 388 1057.2 388.7 1061.1 389.5 1065 390.2 1068.9 391 1072.9 391.8 1076.8 392.7 1080.7 393.5 1084.6 394.4 1088.5 395.3 1092.3 396.3 1096.2 397.2 1100.1 398.2 1104 399.2 1107.8 400.3 1111.7 401.3 1115.5 402.4 1119.4 403.5 1123.2 404.6 1127 405.8 1130.8 407 1134.6 408.2 1138.4 409.5 1142.2 410.9 1145.9 412.3 1149.7 413.7 1153.4 415.2 1157.1 416.8 1160.7 418.4 1164.3 420.1 1167.9 421.9 1171.5 423.7 1175 425.7 1178.4 427.7 1181.7 430 1184.9 432.4 1187.9 435 1190.8 437.7 1193.6 440.6 1196.2 443.6 1198.7 446.7 1201.2 449.9 1203.5 453.2 1205.7 456.5 1207.8 459.9 1209.8 463.4 1211.6 467 1213.2 470.6 1214.7 474.3 1216 478.1 1217.3 481.9 1218.5 485.7 1219.6 489.5 1220.8 493.3 1221.9 497.2 1223 501 1224.1 504.9 1225.1 508.7 1226.1 512.6 1227 516.5 1228 520.4 1228.8 524.3 1229.7 528.2 1230.5 532.1 1231.3 536 1232 540 1232.7 543.9 1233.4 547.8 1234 551.8 1234.7 555.7 1235.3 559.7 1235.9 563.6 1236.4 567.6 1237 571.6 1237.6 575.5 1238.2 579.5 1238.8 583.4 1239.4 587.4 1240 591.3 1240.6 595.3 1241.2 599.2 1241.8 603.2 1242.4 607.1 1243.1 611.1 1243.7 615 1244.3 619 1244.9 622.9 1245.5 626.9 1246.1 630.8 1246.7 634.8 1247.3 638.7 1247.9 642.7 1248.5 646.7 1249.1 650.6 1249.7 654.6 1250.3 658.5 1250.9 662.5 1251.5 666.4 1252 670.4 1252.6 674.3 1253.1 678.3 1253.6 682.3 1254.1 686.2 1254.6 690.2 1255 694.2 1255.4 698.2 1255.8 702.1 1256.2 706.1 1256.5 710.1 1256.8 714.1 1257.1 718.1 1257.4 722.1 1257.6 726.1 1257.9 730 1258.2 734 1258.5 738 1258.8 742 1259.1 746 1259.4 750 1259.8 754 1260.2 757.9 1260.6 761.9 1261 765.9 1261.4 769.9 1261.9 773.8 1262.4 777.8 1262.8 781.8 1263.3 785.7 1263.8 789.7 1264.3 793.7 1264.8 797.6 1265.3 801.6 1265.8 805.6 1266.3 809.5 1266.8 813.5 1267.3 817.5 1267.8 821.5 1268.2 825.4 1268.7 829.4 1269.1 833.4 1269.6 837.3 1270 841.3 1270.4 845.3 1270.9 849.3 1271.3 853.2 1271.7 857.2 1272.1 861.2 1272.5 865.2 1273 869.1 1273.4 873.1 1273.8 877.1 1274.2 881.1 1274.6 885.1 1274.9 889 1275.3 893 1275.7 897 1276.1 901 1276.4 905 1276.8 908.9 1277.1 912.9 1277.5 916.9 1277.8 920.9 1278.2 924.9 1278.5 928.9 1278.8 932.8 1279.1 936.8 1279.5 940.8 1279.8 944.8 1280.1 948.8 1280.4 952.8 1280.7 956.8 1281 960.8 1281.3 964.7 1281.6 968.7 1281.9 972.7 1282.2 976.7 1282.5 980.7 1282.8 984.7 1283.1 988.7 1283.4 992.6 1283.7 996.6 1284.1 1000.6 1284.4 1004.6 1284.7 1008.6 1285 1012.6 1285.3 1016.6 1285.7 1020.5 1286 1024.5 1286.3 1028.5 1286.7 1032.5 1287 1036.5 1287.3 1040.5 1287.7 1044.4 1288 1048.4 1288.4 1052.4 1288.7 1056.4 1289.1 1060.4 1289.5 1064.4 1289.9 1068.3 1290.3 1072.3 1290.6 1076.3 1291 1080.3 1291.5 1084.2 1291.9 1088.2 1292.3 1092.2 1292.7 1096.2 1293.2 1100.1 1293.6 1104.1 1294 1108.1 1294.5 1112.1 1294.9 1116 1295.4 1120 1295.9 1124 1296.3 1128 1296.8 1131.9 1297.3 1135.9 1297.7 1139.9 1298.2 1143.8 1298.7 1147.8 1299.2 1151.8 1299.7 1155.7 1300.2 1159.7 1300.7 1163.7 1301.2 1167.6 1301.7 1171.6 1302.2 1175.6 1302.7 1179.5 1303.2 1183.5 1303.7 1187.5 1304.3 1191.4 1304.8 1195.4 1305.3 1199.4 1305.9 1203.3 1306.5 1207.3 1307.1 1211.2 1307.7 1215.2 1308.3 1219.1 1309 1223.1 1309.6 1227 1310.3 1230.9 1311.1 1234.9 1311.8 1238.8 1312.6 1242.7 1313.4 1246.6 1314.2 1250.6 1315 1254.5 1315.8 1258.4 1316.6 1262.3 1317.5 1266.2 1318.3 1270.1 1319 1274.1 1319.8 1278 1320.6 1281.9 1321.3 1285.8 1322 1289.8 1322.7 1293.7 1323.4 1297.6 1324.2 1301.6 1324.9 1305.5 1325.7 1309.4 1326.6 1313.3 1327.5 1317.2 1328.4 1321.1 1329.5 1325 1330.6 1328.8 1331.8 1332.6 1333.1 1336.4 1334.4 1340.1 1335.9 1343.9 1337.4 1347.6 1338.9 1351.3 1340.5 1355 1342 1358.6 1343.6 1362.3 1345.1 1366 1346.6 1369.7 1348 1373.5 1349.5 1377.2 1350.9 1380.9 1352.4 1384.6 1353.8 1388.4 1355.3 1392.1 1356.8 1395.8 1358.4 1399.5 1360 1403.1 1361.7 1406.7 1363.4 1410.3 1365.2 1413.9 1367 1417.5 1368.9 1421 1370.8 1424.5 1372.8 1428 1374.8 1431.5 1376.8 1434.9 1378.9 1438.3 1381.1 1441.7 1383.3 1445 1385.5 1448.3 1387.9 1451.6 1390.2 1454.8 1392.7 1457.9 1395.2 1461.1 1397.7 1464.1 1400.3 1467.2 1403 1470.2 1405.6 1473.2 1408.3 1476.1 1411 1479.1 1413.8 1482 1416.5 1484.9 1419.4 1487.7 1422.3 1490.4 1425.3 1493 1428.4 1495.5 1431.6 1497.9 1435 1500.2 1438.3 1502.3 1441.8 1504.3 1445.2 1506.3 1448.8 1508.2 1452.3 1510 1455.9 1511.8 1459.5 1513.5 1463.2 1515.1 1466.9 1516.6 1470.6 1518.1 1474.4 1519.4 1478.2 1520.6 1482.1 1521.6 1485.9 1522.6 1489.9 1523.3 1493.8 1524 1497.8 1524.5 1501.8 1524.9 1505.7 1525.2 1509.7 1525.4 1513.7 1525.6 1517.7 1525.8 1521.7 1525.8 1525.7 1525.9 1529.7 1525.8 1533.7 1525.7 1537.7 1525.4 1541.7 1525.1 1545.7 1524.7 1549.6 1524.2 1553.6 1523.7 1557.6 1523.2 1561.5 1522.5 1565.4 1521.8 1569.4 1521 1573.3 1520.1 1577.1 1519.1 1581 1518.1 1584.9 1517.1 1588.7 1515.9 1592.5 1514.7 1596.3 1513.5 1600.1 1512.2 1603.8 1510.8 1607.6 1509.4 1611.3 1507.9 1614.9 1506.3 1618.6 1504.6 1622.2 1502.9 1625.8 1501.1 1629.3 1499.2 1632.8 1497.4 1636.3 1495.5 1639.8 1493.5 1643.3 1491.5 1646.7 1489.5 1650.2 1487.4 1653.5 1485.3 1656.9 1483.1 1660.2 1480.8 1663.4 1478.5 1666.6 1476.1 1669.8 1473.6 1672.9 1471.2 1676 1468.6 1679.1 1466 1682.1 1463.4 1685 1460.7 1687.9 1458 1690.8 1455.2 1693.7 1452.4 1696.5 1449.6 1699.3 1446.7 1702 1443.8 1704.8 1440.9 1707.5 1437.9 1710.1 1434.9 1712.8 1432 1715.4 1429 1718.1 1426 1720.8 1423 1723.5 1420.1 1726.2 1417.1 1729 1414.2 1731.7 1411.3 1734.5 1408.4 1737.2 1405.5 1739.9 1402.6 1742.6 1399.6 1745.3 1396.6 1747.9 1393.6 1750.4 1390.5 1752.9 1387.4 1755.4 1384.2 1757.8 1381.1 1760.2 1377.9 1762.5 1374.6 1764.9 1371.4 1767.3 1368.2 1769.6 1365 1772 1361.8 1774.4 1358.6 1776.9 1355.4 1779.3 1352.3 1781.9 1349.2 1784.4 1346.1 1787.1 1343.1 1789.8 1340.2 1792.6 1337.3 1795.4 1334.4 1798.2 1331.6 1801.1 1328.9 1804.1 1326.2 1807.1 1323.5 1810 1320.9 1813.1 1318.2 1816.1 1315.6 1819.1 1313 1822.1 1310.3 1825.1 1307.7 1828.1 1305 1831 1302.3 1833.9 1299.6 1836.8 1296.8 1839.7 1294 1842.5 1291.2 1845.4 1288.4 1848.2 1285.6 1851 1282.8 1853.9 1280 1856.8 1277.2 1859.6 1274.4 1862.6 1271.7 1865.5 1269 1868.5 1266.3 1871.5 1263.7 1874.6 1261.1 1877.6 1258.5 1880.7 1256 1883.8 1253.5 1887 1251.1 1890.2 1248.7 1893.4 1246.3 1896.7 1244 1900 1241.7 1903.3 1239.5 1906.7 1237.4 1910.1 1235.3 1913.5 1233.2 1917 1231.2 1920.5 1229.4 1924.1 1227.6 1927.8 1226 1931.5 1224.6 1935.3 1223.4 1939.2 1222.4 1943.1 1221.6 1947.1 1221 1951 1220.5 1955 1220.2 1959 1220.1 1963 1220.1 1967 1220.2 1971 1220.5 1975 1221 1978.9 1221.7 1982.8 1222.5 1986.7 1223.3 1990.6 1224.3 1994.5 1225.3 1998.3 1226.3 2002.2 1227.4 2006 1228.6 2009.8 1229.8 2013.6 1231 2017.4 1232.3 2021.2 1233.5 2025 1234.8 2028.8 1236.1 2032.6 1237.4 2036.3 1238.8 2040.1 1240.1 2043.9 1241.4 2047.6 1242.8 2051.4 1244.1 2055.2 1245.5 2058.9 1246.8 2062.7 1248.2 2066.4 1249.6 2070.2 1251 2073.9 1252.4 2077.7 1253.8 2081.4 1255.1 2085.2 1256.5 2088.9 1257.9 2092.7 1259.3 2096.4 1260.6 2100.2 1262 2104 1263.3 2107.7 1264.7 2111.5 1266 2115.3 1267.4 2119 1268.7 2122.8 1270 2126.6 1271.3 2130.4 1272.7 2134.1 1274 2137.9 1275.3 2141.7 1276.6 2145.5 1278 2149.2 1279.3 2153 1280.6" fill="none" stroke="#2020ff" stroke-width="5.6" stroke-linejoin="round"/>
<rect x="302" y="169.5" width="1896" height="1537.5" fill="none" stroke="#1c1c1c" stroke-width="6"/>
<path d="M302 1707H271M302 1536.167H271M302 1365.333H271M302 1194.5H271M302 1023.667H271M302 852.833H271M302 682H271M302 511.167H271M302 340.333H271M302 169.5H271M302 1621.583H286M302 1450.75H286M302 1279.917H286M302 1109.083H286M302 938.25H286M302 767.417H286M302 596.583H286M302 425.75H286M302 254.917H286M302 1707V1738M539 1707V1738M776 1707V1738M1013 1707V1738M1250 1707V1738M1487 1707V1738M1724 1707V1738M1961 1707V1738M2198 1707V1738M420.5 1707V1723M657.5 1707V1723M894.5 1707V1723M1131.5 1707V1723M1368.5 1707V1723M1605.5 1707V1723M1842.5 1707V1723M2079.5 1707V1723" stroke="#1c1c1c" stroke-width="6" fill="none"/>
<text transform="translate(250.5 1726.8) scale(0.95 1)" text-anchor="end" font-size="69">0</text>
<text transform="translate(250.5 1555.967) scale(0.95 1)" text-anchor="end" font-size="69">1000</text>
<text transform="translate(250.5 1385.133) scale(0.95 1)" text-anchor="end" font-size="69">2000</text>
<text transform="translate(250.5 1214.3) scale(0.95 1)" text-anchor="end" font-size="69">3000</text>
<text transform="translate(250.5 1043.467) scale(0.95 1)" text-anchor="end" font-size="69">4000</text>
<text transform="translate(250.5 872.633) scale(0.95 1)" text-anchor="end" font-size="69">5000</text>
<text transform="translate(250.5 701.8) scale(0.95 1)" text-anchor="end" font-size="69">6000</text>
<text transform="translate(250.5 530.967) scale(0.95 1)" text-anchor="end" font-size="69">7000</text>
<text transform="translate(250.5 360.133) scale(0.95 1)" text-anchor="end" font-size="69">8000</text>
<text transform="translate(250.5 189.3) scale(0.95 1)" text-anchor="end" font-size="69">9000</text>
<text transform="translate(302 1808.4) scale(0.95 1)" text-anchor="middle" font-size="69">-20</text>
<text transform="translate(539 1808.4) scale(0.95 1)" text-anchor="middle" font-size="69">0</text>
<text transform="translate(776 1808.4) scale(0.95 1)" text-anchor="middle" font-size="69">20</text>
<text transform="translate(1013 1808.4) scale(0.95 1)" text-anchor="middle" font-size="69">40</text>
<text transform="translate(1250 1808.4) scale(0.95 1)" text-anchor="middle" font-size="69">60</text>
<text transform="translate(1487 1808.4) scale(0.95 1)" text-anchor="middle" font-size="69">80</text>
<text transform="translate(1724 1808.4) scale(0.95 1)" text-anchor="middle" font-size="69">100</text>
<text transform="translate(1961 1808.4) scale(0.95 1)" text-anchor="middle" font-size="69">120</text>
<text transform="translate(2198 1808.4) scale(0.95 1)" text-anchor="middle" font-size="69">140</text>
<text transform="translate(1249.8 1909.6) scale(0.95 1)" text-anchor="middle" font-size="85">Temperature (°C)</text>
<text transform="translate(92 898.75) rotate(-90) scale(0.913 1)" text-anchor="middle" font-size="88">Storage Modulus (MPa)</text>
<text transform="translate(363 247) scale(0.85 1)" font-size="74" font-weight="bold">a</text>
<rect x="1659.5" y="36.2" width="736" height="359.8" fill="#fff" stroke="#a0a0a0" stroke-width="3.2"/>
<path d="M1668.5 81.4H1819" stroke="#fa8816" stroke-width="6.5"/>
<text transform="translate(1833 101) scale(0.94 1)" font-size="69.5" stroke="#141414" stroke-width="0.8">PLA</text>
<path d="M1668.5 162H1819" stroke="#1c1c1c" stroke-width="6.5"/>
<text transform="translate(1833 184.5) scale(0.94 1)" font-size="69.5" stroke="#141414" stroke-width="0.8">PLA/NT</text>
<path d="M1668.5 244.1H1819" stroke="#ff1c1c" stroke-width="6.5"/>
<text transform="translate(1833 265.2) scale(0.94 1)" font-size="69.5" stroke="#141414" stroke-width="0.8">PLA/NT<tspan font-weight="bold" font-size="93.825" dx="-2.085" dy="6.95" stroke-width="1.39">-</tspan><tspan dx="-2.78" dy="-6.95">N</tspan><tspan font-size="44.48" dy="20.155">2</tspan></text>
<path d="M1668.5 337.9H1819" stroke="#2020ff" stroke-width="6.5"/>
<text transform="translate(1833 360.5) scale(0.94 1)" font-size="69.5" stroke="#141414" stroke-width="0.8">PLA/NT<tspan font-weight="bold" font-size="93.825" dx="-2.085" dy="6.95" stroke-width="1.39">-</tspan><tspan dx="-2.78" dy="-6.95">N</tspan><tspan font-size="44.48" dy="20.155">2</tspan><tspan dy="-20.155">/TMCTS</tspan></text>
<path d="M324 3650.4L328 3650.6 332 3650.8 336 3650.9 340 3651.1 344 3651.3 348 3651.5 352 3651.7 356 3651.9 360 3652.1 364 3652.2 368 3652.4 372 3652.6 375.9 3652.8 379.9 3653 383.9 3653.2 387.9 3653.3 391.9 3653.5 395.9 3653.7 399.9 3653.8 403.9 3654 407.9 3654.2 411.9 3654.3 415.9 3654.5 419.9 3654.6 423.9 3654.7 427.9 3654.9 431.9 3655 435.9 3655.1 439.9 3655.2 443.9 3655.3 447.9 3655.4 451.9 3655.5 455.9 3655.5 459.9 3655.6 463.9 3655.6 467.9 3655.7 471.9 3655.7 475.9 3655.7 479.9 3655.7 483.9 3655.7 487.9 3655.7 491.9 3655.7 495.9 3655.7 499.9 3655.6 503.9 3655.6 507.9 3655.6 511.9 3655.5 515.9 3655.5 519.9 3655.4 523.9 3655.3 527.9 3655.3 531.9 3655.2 535.9 3655.1 539.9 3655 543.9 3655 547.9 3654.9 551.9 3654.8 555.9 3654.7 559.9 3654.6 563.9 3654.5 567.9 3654.4 571.9 3654.3 575.9 3654.2 579.9 3654.1 583.9 3654 587.9 3653.9 591.9 3653.8 595.9 3653.6 599.9 3653.5 603.9 3653.4 607.9 3653.3 611.9 3653.2 615.9 3653 619.9 3652.9 623.9 3652.8 627.9 3652.6 631.9 3652.5 635.9 3652.3 639.9 3652.2 643.9 3652 647.9 3651.8 651.9 3651.7 655.9 3651.5 659.9 3651.4 663.9 3651.2 667.8 3651 671.8 3650.8 675.8 3650.7 679.8 3650.5 683.8 3650.3 687.8 3650.2 691.8 3650 695.8 3649.8 699.8 3649.6 703.8 3649.5 707.8 3649.3 711.8 3649.2 715.8 3649 719.8 3648.8 723.8 3648.7 727.8 3648.5 731.8 3648.4 735.8 3648.3 739.8 3648.1 743.8 3648 747.8 3647.9 751.8 3647.7 755.8 3647.6 759.8 3647.5 763.8 3647.4 767.8 3647.3 771.8 3647.2 775.8 3647.1 779.8 3647 783.8 3646.9 787.8 3646.8 791.8 3646.8 795.8 3646.7 799.8 3646.6 803.8 3646.5 807.8 3646.4 811.8 3646.4 815.8 3646.3 819.8 3646.2 823.8 3646.2 827.8 3646.1 831.8 3646 835.8 3646 839.8 3645.9 843.8 3645.9 847.8 3645.8 851.8 3645.7 855.8 3645.7 859.8 3645.6 863.8 3645.6 867.8 3645.5 871.8 3645.5 875.8 3645.4 879.8 3645.4 883.8 3645.3 887.8 3645.3 891.8 3645.2 895.8 3645.2 899.8 3645.1 903.8 3645.1 907.8 3645 911.8 3645 915.8 3644.9 919.8 3644.9 923.8 3644.9 927.8 3644.8 931.8 3644.8 935.8 3644.8 939.8 3644.8 943.8 3644.7 947.8 3644.7 951.8 3644.7 955.8 3644.7 959.8 3644.7 963.8 3644.7 967.8 3644.7 971.8 3644.6 975.8 3644.6 979.8 3644.6 983.8 3644.6 987.8 3644.6 991.8 3644.6 995.8 3644.5 999.8 3644.5 1003.8 3644.5 1007.8 3644.5 1011.8 3644.4 1015.8 3644.4 1019.8 3644.4 1023.8 3644.3 1027.8 3644.3 1031.8 3644.2 1035.8 3644.2 1039.8 3644.1 1043.8 3644 1047.8 3644 1051.8 3643.9 1055.8 3643.9 1059.8 3643.8 1063.8 3643.8 1067.8 3643.7 1071.8 3643.6 1075.8 3643.5 1079.8 3643.4 1083.8 3643.3 1087.8 3643.2 1091.8 3643 1095.8 3642.9 1099.8 3642.7 1103.8 3642.5 1107.8 3642.3 1111.8 3642.1 1115.7 3641.8 1119.7 3641.5 1123.7 3641.3 1127.7 3640.9 1131.7 3640.6 1135.7 3640.2 1139.7 3639.8 1143.6 3639.3 1147.6 3638.7 1151.5 3638 1155.5 3637.3 1159.4 3636.4 1163.2 3635.4 1167 3634.2 1170.8 3632.9 1174.5 3631.4 1178.2 3629.8 1181.8 3628 1185.3 3626.1 1188.8 3624.1 1192.2 3622 1195.5 3619.8 1198.8 3617.5 1202 3615.1 1205.1 3612.6 1208.1 3610 1211.1 3607.3 1213.9 3604.4 1216.7 3601.6 1219.4 3598.6 1222 3595.6 1224.6 3592.5 1227.1 3589.4 1229.5 3586.2 1231.9 3583 1234.3 3579.8 1236.6 3576.6 1238.9 3573.3 1241.2 3570 1243.4 3566.6 1245.5 3563.3 1247.6 3559.9 1249.6 3556.4 1251.6 3552.9 1253.6 3549.4 1255.4 3545.9 1257.3 3542.4 1259.1 3538.8 1260.9 3535.2 1262.8 3531.7 1264.7 3528.2 1266.6 3524.7 1268.6 3521.2 1270.7 3517.8 1272.9 3514.4 1275.1 3511.1 1277.4 3507.8 1279.7 3504.6 1282.2 3501.4 1284.6 3498.2 1287.1 3495.1 1289.7 3492 1292.2 3489 1294.8 3485.9 1297.4 3482.9 1300.1 3479.9 1302.9 3477.1 1305.9 3474.5 1309.2 3472.2 1312.8 3470.5 1316.7 3469.3 1320.6 3468.8 1324.6 3468.9 1328.6 3469.6 1332.3 3470.9 1335.9 3472.8 1339.2 3474.9 1342.5 3477.3 1345.6 3479.8 1348.7 3482.3 1351.9 3484.7 1355.1 3487.1 1358.3 3489.4 1361.6 3491.7 1364.9 3494.1 1368 3496.5 1371.1 3499.1 1374 3501.8 1376.9 3504.6 1379.8 3507.4 1382.6 3510.2 1385.4 3513.1 1388.1 3516 1390.9 3518.9 1393.6 3521.8 1396.3 3524.8 1399 3527.8 1401.7 3530.7 1404.4 3533.7 1407.1 3536.6 1409.8 3539.5 1412.6 3542.4 1415.4 3545.3 1418.2 3548.2 1421 3551 1423.8 3553.8 1426.7 3556.6 1429.6 3559.4 1432.5 3562.1 1435.4 3564.8 1438.4 3567.5 1441.4 3570.2 1444.4 3572.8 1447.4 3575.4 1450.5 3578 1453.6 3580.5 1456.8 3582.9 1460 3585.3 1463.2 3587.7 1466.4 3590 1469.7 3592.4 1473 3594.6 1476.3 3596.9 1479.7 3599.1 1483 3601.2 1486.4 3603.3 1489.9 3605.4 1493.3 3607.4 1496.8 3609.4 1500.3 3611.3 1503.8 3613.2 1507.4 3615 1510.9 3616.9 1514.5 3618.7 1518.1 3620.5 1521.6 3622.3 1525.2 3624.2 1528.7 3626 1532.2 3627.9 1535.8 3629.8 1539.3 3631.6 1542.9 3633.4 1546.5 3635.1 1550.2 3636.8 1553.8 3638.4 1557.5 3639.9 1561.3 3641.3 1565.1 3642.6 1568.9 3643.8 1572.7 3644.9 1576.6 3646 1580.5 3647 1584.3 3648 1588.2 3648.9 1592.1 3649.8 1596 3650.7 1599.9 3651.6 1603.8 3652.4 1607.8 3653.2 1611.7 3654 1615.6 3654.7 1619.5 3655.4 1623.5 3656.1 1627.4 3656.7 1631.4 3657.4 1635.3 3658 1639.3 3658.5 1643.3 3659.1 1647.2 3659.6 1651.2 3660.1 1655.2 3660.6 1659.1 3661 1663.1 3661.4 1667.1 3661.8 1671.1 3662.2 1675.1 3662.5 1679.1 3662.8 1683.1 3663.1 1687 3663.4 1691 3663.6 1695 3663.8 1699 3664 1703 3664.2 1707 3664.5 1711 3664.7 1715 3665 1719 3665.3 1723 3665.6 1727 3665.9 1731 3666.2 1734.9 3666.5 1738.9 3666.7 1742.9 3666.9 1746.9 3667.1 1750.9 3667.3 1754.9 3667.4 1758.9 3667.5 1762.9 3667.7 1766.9 3667.8 1770.9 3667.9 1774.9 3668 1778.9 3668.2 1782.9 3668.3 1786.9 3668.5 1790.9 3668.6 1794.9 3668.8 1798.9 3668.9 1802.9 3669.1 1806.9 3669.2 1810.9 3669.4 1814.9 3669.5 1818.9 3669.7 1822.9 3669.8 1826.9 3670 1830.9 3670.1 1834.9 3670.3 1838.9 3670.5 1842.9 3670.6 1846.9 3670.8 1850.9 3670.9 1854.9 3671.1 1858.9 3671.2 1862.9 3671.4 1866.9 3671.5 1870.9 3671.6 1874.9 3671.8 1878.9 3671.9 1882.9 3672.1 1886.9 3672.2 1890.8 3672.3 1894.8 3672.5 1898.8 3672.6 1902.8 3672.7 1906.8 3672.8 1910.8 3673 1914.8 3673.1 1918.8 3673.2 1922.8 3673.3 1926.8 3673.4 1930.8 3673.5 1934.8 3673.6 1938.8 3673.7 1942.8 3673.8 1946.8 3673.9 1950.8 3674 1954.8 3674.1 1958.8 3674.2 1962.8 3674.3 1966.8 3674.4 1970.8 3674.5 1974.8 3674.6 1978.8 3674.7 1982.8 3674.8 1986.8 3674.9 1990.8 3675 1994.8 3675.1 1998.8 3675.2 2002.8 3675.3 2006.8 3675.4 2010.8 3675.4 2014.8 3675.5 2018.8 3675.6 2022.8 3675.7 2026.8 3675.8 2030.8 3675.9 2034.8 3675.9 2038.8 3676 2042.8 3676.1 2046.8 3676.2 2050.8 3676.3 2054.8 3676.3 2058.8 3676.4 2062.8 3676.5 2066.8 3676.6 2070.8 3676.6 2074.8 3676.7 2078.8 3676.8 2082.8 3676.9 2086.8 3676.9 2090.8 3677 2094.8 3677.1 2098.8 3677.2 2102.8 3677.2 2106.8 3677.3 2110.8 3677.4 2114.8 3677.5 2118.8 3677.5 2122.8 3677.6 2126.8 3677.7 2130.8 3677.7 2134.8 3677.8 2138.8 3677.9 2142.8 3678 2146.8 3678 2150.8 3678.1 2154.8 3678.2 2158.8 3678.2 2162.8 3678.3 2166.8 3678.4 2170.8 3678.5 2174.8 3678.5 2178.8 3678.6" fill="none" stroke="#fa8816" stroke-width="5.6" stroke-linejoin="round"/>
<path d="M324 3605.2L328 3605.3 332 3605.5 336 3605.6 340 3605.7 344 3605.9 348 3606 352 3606.1 356 3606.3 360 3606.4 364 3606.5 367.9 3606.7 371.9 3606.8 375.9 3606.9 379.9 3607.1 383.9 3607.2 387.9 3607.3 391.9 3607.4 395.9 3607.6 399.9 3607.7 403.9 3607.8 407.9 3607.9 411.9 3608 415.9 3608.1 419.9 3608.2 423.9 3608.3 427.9 3608.4 431.9 3608.5 435.9 3608.6 439.9 3608.7 443.9 3608.8 447.9 3608.9 451.9 3608.9 455.9 3609 459.8 3609.1 463.8 3609.1 467.8 3609.2 471.8 3609.2 475.8 3609.3 479.8 3609.3 483.8 3609.4 487.8 3609.4 491.8 3609.5 495.8 3609.5 499.8 3609.5 503.8 3609.6 507.8 3609.6 511.8 3609.6 515.8 3609.7 519.8 3609.7 523.8 3609.7 527.8 3609.7 531.8 3609.8 535.8 3609.8 539.8 3609.8 543.8 3609.8 547.8 3609.8 551.8 3609.9 555.8 3609.9 559.8 3609.9 563.8 3609.9 567.8 3610 571.8 3610 575.8 3610 579.8 3610 583.8 3610 587.8 3610 591.8 3610.1 595.8 3610.1 599.7 3610.1 603.7 3610.1 607.7 3610.1 611.7 3610.1 615.7 3610.1 619.7 3610.1 623.7 3610.2 627.7 3610.2 631.7 3610.2 635.7 3610.1 639.7 3610.1 643.7 3610.1 647.7 3610.1 651.7 3610.1 655.7 3610.1 659.7 3610.1 663.7 3610 667.7 3610 671.7 3609.9 675.7 3609.9 679.7 3609.9 683.7 3609.8 687.7 3609.7 691.7 3609.7 695.7 3609.6 699.7 3609.5 703.7 3609.4 707.7 3609.4 711.7 3609.3 715.7 3609.2 719.7 3609.1 723.7 3609 727.6 3608.9 731.6 3608.8 735.6 3608.7 739.6 3608.6 743.6 3608.4 747.6 3608.3 751.6 3608.2 755.6 3608.1 759.6 3608 763.6 3607.9 767.6 3607.8 771.6 3607.7 775.6 3607.6 779.6 3607.5 783.6 3607.4 787.6 3607.3 791.6 3607.2 795.6 3607.1 799.6 3607 803.6 3607 807.6 3606.9 811.6 3606.8 815.6 3606.8 819.6 3606.7 823.6 3606.6 827.6 3606.6 831.6 3606.5 835.5 3606.5 839.5 3606.4 843.5 3606.3 847.5 3606.3 851.5 3606.2 855.5 3606.2 859.5 3606.1 863.5 3606.1 867.5 3606 871.5 3605.9 875.5 3605.8 879.5 3605.8 883.5 3605.7 887.5 3605.6 891.5 3605.5 895.5 3605.4 899.5 3605.3 903.5 3605.2 907.5 3605.1 911.5 3604.9 915.5 3604.8 919.5 3604.7 923.5 3604.5 927.5 3604.4 931.5 3604.2 935.4 3604.1 939.4 3603.9 943.4 3603.7 947.4 3603.6 951.4 3603.4 955.4 3603.2 959.4 3603 963.4 3602.8 967.4 3602.6 971.4 3602.3 975.4 3602.1 979.4 3601.9 983.3 3601.6 987.3 3601.3 991.3 3601.1 995.3 3600.8 999.3 3600.5 1003.3 3600.2 1007.3 3599.9 1011.3 3599.5 1015.2 3599.2 1019.2 3598.9 1023.2 3598.5 1027.2 3598.2 1031.2 3597.8 1035.1 3597.5 1039.1 3597.1 1043.1 3596.7 1047.1 3596.4 1051.1 3596 1055 3595.6 1059 3595.2 1063 3594.7 1067 3594.3 1070.9 3593.9 1074.9 3593.4 1078.9 3593 1082.9 3592.5 1086.8 3592 1090.8 3591.5 1094.8 3591 1098.7 3590.5 1102.7 3590 1106.6 3589.5 1110.6 3588.9 1114.6 3588.3 1118.5 3587.7 1122.5 3587.1 1126.4 3586.5 1130.3 3585.8 1134.3 3585.1 1138.2 3584.4 1142.1 3583.7 1146.1 3582.9 1150 3582.1 1153.9 3581.3 1157.8 3580.5 1161.7 3579.6 1165.6 3578.7 1169.5 3577.7 1173.4 3576.7 1177.2 3575.7 1181 3574.5 1184.8 3573.1 1188.5 3571.6 1192.1 3569.9 1195.6 3567.9 1198.9 3565.7 1202 3563.2 1204.8 3560.4 1207.4 3557.3 1209.8 3554.1 1211.9 3550.7 1213.9 3547.2 1215.5 3543.6 1217.1 3539.9 1218.4 3536.1 1219.6 3532.3 1220.7 3528.5 1221.7 3524.6 1222.6 3520.7 1223.6 3516.8 1224.5 3513 1225.4 3509.1 1226.2 3505.2 1227.1 3501.2 1227.9 3497.3 1228.7 3493.4 1229.5 3489.5 1230.2 3485.6 1231 3481.6 1231.7 3477.7 1232.4 3473.8 1233.1 3469.8 1233.8 3465.9 1234.5 3462 1235.1 3458 1235.7 3454.1 1236.4 3450.1 1237 3446.2 1237.5 3442.2 1238.1 3438.3 1238.7 3434.3 1239.3 3430.4 1239.8 3426.4 1240.4 3422.4 1241 3418.5 1241.5 3414.5 1242.1 3410.6 1242.7 3406.6 1243.3 3402.7 1243.9 3398.7 1244.5 3394.8 1245.2 3390.8 1245.8 3386.9 1246.4 3382.9 1247.1 3379 1247.7 3375 1248.3 3371.1 1249 3367.1 1249.6 3363.2 1250.3 3359.3 1251 3355.3 1251.7 3351.4 1252.3 3347.4 1253.1 3343.5 1253.8 3339.6 1254.5 3335.6 1255.2 3331.7 1256 3327.8 1256.7 3323.9 1257.5 3319.9 1258.3 3316 1259.1 3312.1 1259.9 3308.2 1260.8 3304.3 1261.6 3300.4 1262.5 3296.5 1263.5 3292.6 1264.4 3288.7 1265.5 3284.9 1266.6 3281 1267.8 3277.2 1269.1 3273.4 1270.4 3269.6 1271.7 3265.9 1273 3262.1 1274.3 3258.3 1275.7 3254.6 1277.4 3251 1279.7 3247.7 1282.9 3245.4 1286.8 3244.4 1290.8 3244.3 1294.6 3245.3 1298.4 3246.6 1302.3 3247.4 1306.2 3246.5 1309.6 3244.5 1312.7 3241.9 1315.6 3239.1 1318.4 3236.3 1321.2 3233.4 1324.1 3230.7 1327.1 3228.1 1330.2 3225.5 1333.2 3222.9 1336.3 3220.4 1339.7 3218.2 1343.3 3216.7 1347.2 3217.2 1350.3 3219.8 1352.7 3222.9 1354.8 3226.3 1356.7 3229.9 1358.4 3233.5 1360 3237.1 1361.5 3240.8 1362.9 3244.6 1364.3 3248.3 1365.7 3252.1 1367 3255.8 1368.3 3259.6 1369.6 3263.4 1370.8 3267.2 1372.1 3271 1373.3 3274.8 1374.6 3278.6 1375.9 3282.4 1377.2 3286.1 1378.6 3289.9 1379.8 3293.7 1381 3297.5 1382.1 3301.4 1383.1 3305.2 1384 3309.1 1384.8 3313 1385.6 3317 1386.4 3320.9 1387.2 3324.8 1388.1 3328.7 1389 3332.6 1389.9 3336.5 1390.9 3340.3 1392 3344.2 1393.2 3348 1394.4 3351.8 1395.8 3355.6 1397.2 3359.3 1398.8 3363 1400.4 3366.6 1402 3370.3 1403.6 3373.9 1405.3 3377.6 1406.8 3381.3 1408.3 3385 1409.7 3388.7 1411 3392.5 1412.2 3396.3 1413.3 3400.2 1414.3 3404 1415.2 3407.9 1416.2 3411.8 1417.2 3415.7 1418.4 3419.5 1419.6 3423.3 1420.9 3427.1 1422.2 3430.8 1423.7 3434.6 1425.2 3438.3 1426.7 3442 1428.2 3445.7 1429.8 3449.4 1431.3 3453 1432.9 3456.7 1434.5 3460.4 1436.1 3464 1437.9 3467.6 1439.7 3471.2 1441.7 3474.7 1443.7 3478.1 1445.7 3481.5 1447.8 3485 1449.9 3488.4 1452 3491.8 1454.1 3495.2 1456.1 3498.6 1458.2 3502 1460.1 3505.5 1462.1 3509 1463.9 3512.6 1465.8 3516.1 1467.6 3519.7 1469.5 3523.2 1471.4 3526.7 1473.4 3530.1 1475.6 3533.5 1477.8 3536.9 1480 3540.1 1482.4 3543.4 1484.8 3546.6 1487.2 3549.8 1489.6 3553 1492 3556.1 1494.5 3559.3 1496.9 3562.5 1499.4 3565.6 1501.9 3568.7 1504.5 3571.7 1507.2 3574.7 1509.9 3577.6 1512.8 3580.4 1515.7 3583.1 1518.8 3585.7 1521.8 3588.3 1524.9 3590.8 1528.1 3593.3 1531.2 3595.7 1534.5 3598.1 1537.7 3600.4 1541 3602.6 1544.4 3604.8 1547.8 3606.9 1551.2 3608.9 1554.7 3610.9 1558.2 3612.8 1561.8 3614.7 1565.4 3616.3 1569.1 3617.8 1572.9 3618.9 1576.8 3619.9 1580.8 3620.6 1584.7 3621.2 1588.7 3621.8 1592.6 3622.4 1596.6 3623.1 1600.5 3623.9 1604.4 3624.6 1608.3 3625.4 1612.3 3626.1 1616.2 3626.8 1620.2 3627.3 1624.1 3627.8 1628.1 3628.1 1632.1 3628.3 1636.1 3628.4 1640.1 3628.4 1644.1 3628.3 1648.1 3628.1 1652.1 3627.8 1656.1 3627.5 1660 3627.2 1664 3626.8 1668 3626.5 1672 3626.1 1676 3625.8 1680 3625.5 1683.9 3625.2 1687.9 3624.9 1691.9 3624.6 1695.9 3624.3 1699.9 3623.9 1703.9 3623.6 1707.9 3623.3 1711.8 3623 1715.8 3622.6 1719.8 3622.3 1723.8 3621.9 1727.8 3621.6 1731.7 3621.2 1735.7 3620.9 1739.7 3620.5 1743.7 3620.1 1747.7 3619.7 1751.6 3619.3 1755.6 3618.9 1759.6 3618.5 1763.6 3618.1 1767.5 3617.7 1771.5 3617.2 1775.5 3616.8 1779.5 3616.3 1783.4 3615.8 1787.4 3615.2 1791.3 3614.7 1795.3 3614.1 1799.3 3613.6 1803.2 3613.2 1807.2 3612.9 1811.2 3612.7 1815.2 3612.6 1819.2 3612.6 1823.2 3612.6 1827.2 3612.8 1831.2 3612.9 1835.2 3613.1 1839.2 3613.3 1843.2 3613.5 1847.2 3613.7 1851.2 3613.9 1855.1 3614.2 1859.1 3614.4 1863.1 3614.6 1867.1 3614.9 1871.1 3615.1 1875.1 3615.3 1879.1 3615.5 1883.1 3615.7 1887.1 3615.9 1891.1 3616 1895.1 3616.2 1899.1 3616.3 1903.1 3616.5 1907.1 3616.6 1911 3616.7 1915 3616.8 1919 3617 1923 3617.1 1927 3617.2 1931 3617.4 1935 3617.5 1939 3617.6 1943 3617.8 1947 3617.9 1951 3618 1955 3618.2 1959 3618.3 1963 3618.4 1967 3618.5 1971 3618.6 1975 3618.7 1979 3618.8 1983 3618.9 1987 3619 1991 3619 1995 3619.1 1999 3619.1 2003 3619.1 2006.9 3619.1 2010.9 3619.2 2014.9 3619.2 2018.9 3619.2 2022.9 3619.2 2026.9 3619.2 2030.9 3619.2 2034.9 3619.2 2038.9 3619.2 2042.9 3619.1 2046.9 3619.1 2050.9 3619.1 2054.9 3619.1 2058.9 3619.1 2062.9 3619.1 2066.9 3619 2070.9 3619 2074.9 3619 2078.9 3619 2082.9 3619 2086.9 3619 2090.9 3619 2094.9 3618.9 2098.9 3618.9 2102.9 3618.9 2106.9 3618.9 2110.9 3618.8 2114.9 3618.8 2118.9 3618.8 2122.9 3618.7 2126.9 3618.7 2130.9 3618.6 2134.9 3618.5 2138.9 3618.4 2142.8 3618.3 2146.8 3618.2 2150.8 3618.1 2154.8 3617.9 2158.8 3617.8 2162.8 3617.6 2166.8 3617.5 2170.8 3617.3 2174.8 3617.2 2178.8 3617" fill="none" stroke="#1c1c1c" stroke-width="5.6" stroke-linejoin="round"/>
<path d="M324 3589.3L328 3589.4 332 3589.4 336 3589.5 340 3589.5 344 3589.6 348 3589.6 352 3589.7 356 3589.7 360 3589.8 364 3589.8 368 3589.9 372 3589.9 376 3590 380 3590 384 3590.1 388 3590.1 392 3590.2 396 3590.2 400 3590.3 404 3590.3 408 3590.3 412 3590.4 416 3590.4 420 3590.4 424 3590.4 428 3590.5 432 3590.5 436 3590.5 440 3590.5 444 3590.5 448 3590.5 452 3590.5 456 3590.5 460 3590.4 464 3590.4 468 3590.4 472 3590.4 476 3590.3 480 3590.3 484 3590.3 488 3590.2 492 3590.2 496 3590.1 499.9 3590.1 503.9 3590 507.9 3590 511.9 3589.9 515.9 3589.9 519.9 3589.8 523.9 3589.8 527.9 3589.7 531.9 3589.7 535.9 3589.6 539.9 3589.5 543.9 3589.5 547.9 3589.4 551.9 3589.4 555.9 3589.3 559.9 3589.3 563.9 3589.2 567.9 3589.2 571.9 3589.1 575.9 3589 579.9 3589 583.9 3588.9 587.9 3588.9 591.9 3588.8 595.9 3588.7 599.9 3588.7 603.9 3588.6 607.9 3588.5 611.9 3588.4 615.9 3588.4 619.9 3588.3 623.9 3588.2 627.9 3588.2 631.9 3588.1 635.9 3588 639.9 3588 643.9 3587.9 647.9 3587.8 651.9 3587.7 655.9 3587.7 659.9 3587.6 663.9 3587.5 667.9 3587.5 671.9 3587.4 675.9 3587.3 679.9 3587.3 683.9 3587.2 687.9 3587.1 691.9 3587.1 695.9 3587 699.9 3586.9 703.9 3586.8 707.9 3586.8 711.9 3586.7 715.9 3586.6 719.9 3586.6 723.9 3586.5 727.9 3586.4 731.9 3586.4 735.9 3586.3 739.9 3586.2 743.9 3586.2 747.9 3586.1 751.9 3586 755.9 3586 759.9 3585.9 763.9 3585.8 767.9 3585.8 771.8 3585.7 775.8 3585.6 779.8 3585.6 783.8 3585.5 787.8 3585.4 791.8 3585.4 795.8 3585.3 799.8 3585.2 803.8 3585.2 807.8 3585.1 811.8 3585.1 815.8 3585 819.8 3585 823.8 3584.9 827.8 3584.9 831.8 3584.9 835.8 3584.8 839.8 3584.8 843.8 3584.7 847.8 3584.7 851.8 3584.6 855.8 3584.6 859.8 3584.5 863.8 3584.5 867.8 3584.4 871.8 3584.4 875.8 3584.3 879.8 3584.2 883.8 3584.2 887.8 3584.1 891.8 3584 895.8 3583.9 899.8 3583.8 903.8 3583.7 907.8 3583.5 911.8 3583.4 915.8 3583.3 919.8 3583.1 923.8 3582.9 927.8 3582.7 931.8 3582.5 935.8 3582.2 939.7 3581.9 943.7 3581.7 947.7 3581.3 951.7 3581 955.7 3580.7 959.7 3580.3 963.7 3579.9 967.6 3579.5 971.6 3579.1 975.6 3578.6 979.6 3578.1 983.5 3577.6 987.5 3577.1 991.5 3576.6 995.4 3576.1 999.4 3575.5 1003.3 3575 1007.3 3574.4 1011.3 3573.8 1015.2 3573.3 1019.2 3572.7 1023.1 3572.1 1027.1 3571.6 1031 3571 1035 3570.4 1039 3569.9 1042.9 3569.3 1046.9 3568.8 1050.8 3568.2 1054.8 3567.7 1058.8 3567.1 1062.7 3566.5 1066.7 3566 1070.6 3565.4 1074.6 3564.8 1078.5 3564.2 1082.5 3563.5 1086.4 3562.9 1090.4 3562.2 1094.3 3561.5 1098.3 3560.8 1102.2 3560 1106.1 3559.3 1110 3558.5 1114 3557.7 1117.9 3556.9 1121.8 3556.1 1125.7 3555.3 1129.6 3554.4 1133.5 3553.6 1137.4 3552.7 1141.3 3551.8 1145.2 3550.9 1149.1 3549.9 1153 3549 1156.8 3548 1160.7 3547 1164.6 3545.9 1168.4 3544.9 1172.3 3543.8 1176.1 3542.6 1179.9 3541.5 1183.7 3540.2 1187.5 3538.9 1191.3 3537.6 1195 3536.2 1198.8 3534.8 1202.5 3533.3 1206.1 3531.7 1209.8 3530 1213.4 3528.2 1216.9 3526.3 1220.3 3524.2 1223.5 3521.9 1226.7 3519.4 1229.6 3516.7 1232.4 3513.8 1235 3510.8 1237.4 3507.6 1239.7 3504.3 1241.8 3501 1243.8 3497.5 1245.7 3493.9 1247.4 3490.3 1248.9 3486.6 1250.3 3482.9 1251.6 3479.1 1252.6 3475.2 1253.6 3471.3 1254.4 3467.4 1255.1 3463.5 1255.7 3459.5 1256.3 3455.6 1256.8 3451.6 1257.3 3447.7 1257.7 3443.7 1258.1 3439.7 1258.5 3435.7 1258.9 3431.7 1259.3 3427.8 1259.6 3423.8 1260 3419.8 1260.4 3415.8 1260.7 3411.8 1261.1 3407.8 1261.4 3403.9 1261.8 3399.9 1262.1 3395.9 1262.5 3391.9 1262.8 3387.9 1263.1 3383.9 1263.4 3379.9 1263.7 3376 1264 3372 1264.3 3368 1264.7 3364 1265 3360 1265.3 3356 1265.6 3352 1265.9 3348 1266.2 3344.1 1266.5 3340.1 1266.8 3336.1 1267.2 3332.1 1267.5 3328.1 1267.8 3324.1 1268.1 3320.1 1268.5 3316.2 1268.8 3312.2 1269.1 3308.2 1269.5 3304.2 1269.8 3300.2 1270.2 3296.2 1270.5 3292.3 1270.8 3288.3 1271.2 3284.3 1271.5 3280.3 1271.8 3276.3 1272.2 3272.3 1272.5 3268.3 1272.9 3264.4 1273.2 3260.4 1273.6 3256.4 1273.9 3252.4 1274.3 3248.4 1274.6 3244.4 1275 3240.5 1275.4 3236.5 1275.7 3232.5 1276.1 3228.5 1276.4 3224.5 1276.8 3220.5 1277.1 3216.6 1277.4 3212.6 1277.7 3208.6 1278 3204.6 1278.2 3200.6 1278.5 3196.6 1278.7 3192.6 1278.9 3188.6 1279.1 3184.6 1279.3 3180.6 1279.4 3176.6 1279.6 3172.6 1279.7 3168.6 1279.9 3164.6 1280 3160.7 1280.1 3156.7 1280.3 3152.7 1280.4 3148.7 1280.5 3144.7 1280.6 3140.7 1280.8 3136.7 1280.9 3132.7 1281 3128.7 1281.1 3124.7 1281.3 3120.7 1281.4 3116.7 1281.6 3112.7 1281.7 3108.7 1281.9 3104.7 1282.1 3100.7 1282.2 3096.7 1282.4 3092.7 1282.6 3088.7 1282.8 3084.7 1283 3080.7 1283.2 3076.7 1283.4 3072.7 1283.6 3068.7 1283.8 3064.8 1284 3060.8 1284.2 3056.8 1284.4 3052.8 1284.6 3048.8 1284.8 3044.8 1285 3040.8 1285.2 3036.8 1285.5 3032.8 1285.7 3028.8 1285.9 3024.8 1286.1 3020.8 1286.3 3016.8 1286.5 3012.8 1286.7 3008.8 1286.9 3004.8 1287.1 3000.9 1287.3 2996.9 1287.5 2992.9 1287.7 2988.9 1287.9 2984.9 1288 2980.9 1288.2 2976.9 1288.4 2972.9 1288.6 2968.9 1288.8 2964.9 1289 2960.9 1289.2 2956.9 1289.3 2952.9 1289.5 2948.9 1289.7 2944.9 1289.9 2940.9 1290 2936.9 1290.2 2932.9 1290.4 2928.9 1290.6 2924.9 1290.8 2921 1290.9 2917 1291.1 2913 1291.3 2909 1291.5 2905 1291.6 2901 1291.8 2897 1292 2893 1292.2 2889 1292.4 2885 1292.5 2881 1292.7 2877 1292.9 2873 1293.1 2869 1293.3 2865 1293.5 2861 1293.6 2857 1293.8 2853 1294 2849 1294.2 2845.1 1294.4 2841.1 1294.6 2837.1 1294.8 2833.1 1295 2829.1 1295.2 2825.1 1295.4 2821.1 1295.6 2817.1 1295.8 2813.1 1296 2809.1 1296.2 2805.1 1296.4 2801.1 1296.6 2797.1 1296.8 2793.1 1297 2789.1 1297.3 2785.1 1297.5 2781.1 1297.7 2777.2 1297.9 2773.2 1298.1 2769.2 1298.4 2765.2 1298.6 2761.2 1298.8 2757.2 1299.1 2753.2 1299.3 2749.2 1299.5 2745.2 1299.8 2741.2 1300 2737.2 1300.2 2733.2 1300.5 2729.2 1300.7 2725.3 1301 2721.3 1301.2 2717.3 1301.4 2713.3 1301.7 2709.3 1301.9 2705.3 1302.2 2701.3 1302.4 2697.3 1302.7 2693.3 1303 2689.3 1303.2 2685.3 1303.5 2681.4 1303.8 2677.4 1304.2 2673.4 1304.5 2669.4 1304.9 2665.4 1305.3 2661.4 1305.7 2657.5 1306.1 2653.5 1306.5 2649.5 1306.8 2645.5 1307.2 2641.5 1307.6 2637.6 1308 2633.6 1308.4 2629.6 1308.7 2625.6 1309.1 2621.6 1309.4 2617.6 1309.8 2613.7 1310.1 2609.7 1310.4 2605.7 1310.6 2601.7 1310.8 2597.7 1311 2593.7 1311.1 2589.7 1311.2 2585.7 1311.3 2581.7 1311.4 2577.7 1311.4 2573.7 1311.5 2569.7 1311.6 2565.7 1311.7 2561.7 1311.9 2557.7 1312.2 2553.7 1312.5 2549.7 1312.9 2545.8 1313.4 2541.8 1314.1 2537.9 1315 2534 1316 2530.1 1317.2 2526.3 1318.5 2522.5 1320.3 2518.9 1323.5 2518.2 1325.2 2521.8 1326.4 2525.6 1327.4 2529.5 1328.3 2533.4 1329.1 2537.3 1329.8 2541.2 1330.5 2545.2 1331 2549.1 1331.6 2553.1 1332.1 2557.1 1332.5 2561 1332.9 2565 1333.4 2569 1333.7 2573 1334.1 2576.9 1334.5 2580.9 1334.8 2584.9 1335.1 2588.9 1335.5 2592.9 1335.8 2596.9 1336.1 2600.8 1336.5 2604.8 1336.8 2608.8 1337.1 2612.8 1337.5 2616.8 1337.8 2620.8 1338.1 2624.8 1338.4 2628.7 1338.8 2632.7 1339.1 2636.7 1339.4 2640.7 1339.7 2644.7 1340 2648.7 1340.3 2652.7 1340.6 2656.7 1340.9 2660.6 1341.2 2664.6 1341.5 2668.6 1341.7 2672.6 1342 2676.6 1342.3 2680.6 1342.6 2684.6 1342.8 2688.6 1343.1 2692.6 1343.3 2696.6 1343.6 2700.5 1343.8 2704.5 1344.1 2708.5 1344.3 2712.5 1344.5 2716.5 1344.8 2720.5 1345 2724.5 1345.2 2728.5 1345.4 2732.5 1345.6 2736.5 1345.8 2740.5 1346 2744.5 1346.2 2748.5 1346.4 2752.5 1346.6 2756.5 1346.8 2760.4 1347 2764.4 1347.2 2768.4 1347.4 2772.4 1347.7 2776.4 1347.9 2780.4 1348.2 2784.4 1348.4 2788.4 1348.7 2792.4 1349 2796.4 1349.3 2800.4 1349.5 2804.3 1349.9 2808.3 1350.2 2812.3 1350.5 2816.3 1350.8 2820.3 1351.1 2824.3 1351.5 2828.3 1351.8 2832.2 1352.1 2836.2 1352.5 2840.2 1352.8 2844.2 1353.2 2848.2 1353.5 2852.2 1353.8 2856.2 1354.2 2860.1 1354.5 2864.1 1354.8 2868.1 1355.2 2872.1 1355.5 2876.1 1355.8 2880.1 1356.1 2884.1 1356.4 2888 1356.7 2892 1357 2896 1357.3 2900 1357.6 2904 1357.9 2908 1358.2 2912 1358.5 2916 1358.8 2919.9 1359.1 2923.9 1359.4 2927.9 1359.7 2931.9 1360 2935.9 1360.3 2939.9 1360.6 2943.9 1360.8 2947.9 1361.1 2951.9 1361.4 2955.8 1361.6 2959.8 1361.9 2963.8 1362.2 2967.8 1362.4 2971.8 1362.7 2975.8 1363 2979.8 1363.2 2983.8 1363.5 2987.8 1363.7 2991.8 1364 2995.8 1364.2 2999.7 1364.5 3003.7 1364.7 3007.7 1365 3011.7 1365.3 3015.7 1365.6 3019.7 1365.9 3023.7 1366.2 3027.7 1366.5 3031.7 1366.8 3035.6 1367.1 3039.6 1367.5 3043.6 1367.8 3047.6 1368.1 3051.6 1368.5 3055.6 1368.8 3059.6 1369.2 3063.5 1369.5 3067.5 1369.8 3071.5 1370.2 3075.5 1370.5 3079.5 1370.8 3083.5 1371.2 3087.4 1371.5 3091.4 1371.8 3095.4 1372.2 3099.4 1372.5 3103.4 1372.8 3107.4 1373.2 3111.4 1373.5 3115.3 1373.8 3119.3 1374.2 3123.3 1374.5 3127.3 1374.8 3131.3 1375.2 3135.3 1375.5 3139.3 1375.8 3143.2 1376.2 3147.2 1376.6 3151.2 1376.9 3155.2 1377.3 3159.2 1377.7 3163.1 1378.1 3167.1 1378.4 3171.1 1378.7 3175.1 1379 3179.1 1379.2 3183.1 1379.4 3187.1 1379.6 3191.1 1379.8 3195.1 1379.9 3199.1 1380.2 3203.1 1380.4 3207 1380.6 3211 1380.9 3215 1381.2 3219 1381.6 3223 1382.1 3227 1382.6 3230.9 1383.2 3234.9 1383.9 3238.8 1384.6 3242.8 1385.3 3246.7 1386 3250.6 1386.6 3254.6 1387.2 3258.5 1387.7 3262.5 1388.3 3266.5 1388.8 3270.4 1389.3 3274.4 1389.9 3278.4 1390.4 3282.3 1391 3286.3 1391.5 3290.2 1392.1 3294.2 1392.8 3298.1 1393.5 3302.1 1394.3 3306 1395.1 3309.9 1395.9 3313.8 1396.8 3317.7 1397.7 3321.6 1398.6 3325.5 1399.4 3329.4 1400.2 3333.4 1401 3337.3 1401.8 3341.2 1402.6 3345.1 1403.3 3349 1404.1 3353 1404.8 3356.9 1405.6 3360.8 1406.3 3364.8 1407.1 3368.7 1407.8 3372.6 1408.6 3376.5 1409.3 3380.5 1410.1 3384.4 1410.9 3388.3 1411.8 3392.2 1412.6 3396.1 1413.5 3400 1414.5 3403.9 1415.4 3407.8 1416.4 3411.7 1417.5 3415.5 1418.5 3419.4 1419.6 3423.2 1420.7 3427.1 1421.9 3430.9 1423.1 3434.7 1424.4 3438.5 1425.8 3442.2 1427.2 3446 1428.7 3449.7 1430.1 3453.4 1431.6 3457.1 1433.1 3460.8 1434.7 3464.5 1436.3 3468.2 1438 3471.8 1439.7 3475.4 1441.5 3479 1443.4 3482.5 1445.2 3486.1 1447 3489.7 1448.7 3493.3 1450.3 3496.9 1452 3500.6 1453.6 3504.2 1455.2 3507.9 1456.9 3511.5 1458.6 3515.1 1460.4 3518.7 1462.2 3522.3 1464.1 3525.8 1466.1 3529.3 1468.1 3532.7 1470.1 3536.2 1472.1 3539.6 1474.1 3543.1 1476.1 3546.6 1478.1 3550 1480.1 3553.5 1482.2 3556.9 1484.4 3560.2 1486.7 3563.5 1489.1 3566.7 1491.6 3569.9 1494.1 3572.9 1496.7 3575.9 1499.5 3578.9 1502.3 3581.7 1505.2 3584.4 1508.2 3587 1511.4 3589.5 1514.6 3591.8 1518 3594 1521.5 3596 1525 3597.9 1528.6 3599.6 1532.3 3601.1 1536 3602.6 1539.8 3603.9 1543.6 3605.1 1547.5 3606.1 1551.4 3607 1555.3 3607.7 1559.3 3608.3 1563.2 3608.9 1567.2 3609.4 1571.2 3609.9 1575.1 3610.3 1579.1 3610.7 1583.1 3611.1 1587.1 3611.4 1591.1 3611.7 1595.1 3612 1599.1 3612.3 1603 3612.5 1607 3612.7 1611 3612.9 1615 3613 1619 3613.1 1623 3613.2 1627 3613.1 1631 3613 1635 3612.8 1639 3612.6 1643 3612.2 1647 3611.8 1650.9 3611.3 1654.9 3610.8 1658.9 3610.2 1662.8 3609.6 1666.8 3609 1670.7 3608.3 1674.6 3607.6 1678.6 3606.8 1682.5 3606.1 1686.4 3605.3 1690.3 3604.4 1694.2 3603.5 1698.1 3602.6 1702 3601.7 1705.9 3600.8 1709.8 3599.9 1713.7 3599 1717.6 3598 1721.5 3597.2 1725.4 3596.3 1729.3 3595.4 1733.2 3594.6 1737.1 3593.9 1741.1 3593.2 1745 3592.5 1749 3591.8 1752.9 3591.2 1756.9 3590.6 1760.8 3590.1 1764.8 3589.5 1768.7 3589 1772.7 3588.4 1776.7 3587.9 1780.6 3587.3 1784.6 3586.8 1788.5 3586.2 1792.5 3585.6 1796.4 3584.9 1800.4 3584.3 1804.3 3583.7 1808.3 3583 1812.2 3582.3 1816.2 3581.7 1820.1 3581 1824.1 3580.4 1828 3579.8 1832 3579.1 1835.9 3578.5 1839.9 3577.9 1843.8 3577.4 1847.8 3576.8 1851.7 3576.2 1855.7 3575.6 1859.6 3575 1863.6 3574.4 1867.6 3573.8 1871.5 3573.2 1875.5 3572.7 1879.5 3572.3 1883.4 3571.9 1887.4 3571.5 1891.4 3571.3 1895.4 3571.1 1899.4 3571 1903.4 3571 1907.4 3571.1 1911.4 3571.2 1915.4 3571.5 1919.4 3571.8 1923.4 3572.1 1927.3 3572.5 1931.3 3573 1935.3 3573.4 1939.3 3573.9 1943.2 3574.3 1947.2 3574.8 1951.2 3575.2 1955.2 3575.5 1959.1 3575.9 1963.1 3576.2 1967.1 3576.6 1971.1 3576.9 1975.1 3577.2 1979.1 3577.5 1983.1 3577.8 1987.1 3578.1 1991 3578.4 1995 3578.7 1999 3578.9 2003 3579.1 2007 3579.3 2011 3579.5 2015 3579.6 2019 3579.8 2023 3579.8 2027 3579.9 2031 3579.9 2035 3579.9 2039 3579.9 2043 3579.8 2047 3579.8 2051 3579.7 2055 3579.6 2059 3579.5 2063 3579.4 2067 3579.2 2071 3579.1 2075 3579 2079 3578.8 2083 3578.7 2087 3578.5 2091 3578.4 2095 3578.2 2098.9 3578 2102.9 3577.8 2106.9 3577.6 2110.9 3577.3 2114.9 3577.1 2118.9 3576.9 2122.9 3576.7 2126.9 3576.5 2130.9 3576.2 2134.9 3576 2138.9 3575.8 2142.9 3575.6 2146.9 3575.4 2150.9 3575.1 2154.8 3574.9 2158.8 3574.7 2162.8 3574.4 2166.8 3574.2 2170.8 3574 2174.8 3573.7 2178.8 3573.5" fill="none" stroke="#ff1c1c" stroke-width="5.6" stroke-linejoin="round"/>
<path d="M324 3493.7L328 3493.9 332 3494.1 336 3494.3 340 3494.6 344 3494.8 348 3495 352 3495.2 356 3495.4 360 3495.6 364 3495.8 367.9 3496 371.9 3496.2 375.9 3496.5 379.9 3496.7 383.9 3496.9 387.9 3497.1 391.9 3497.2 395.9 3497.4 399.9 3497.6 403.9 3497.8 407.9 3498 411.9 3498.2 415.9 3498.4 419.9 3498.6 423.9 3498.8 427.9 3499 431.9 3499.2 435.9 3499.3 439.9 3499.5 443.9 3499.7 447.9 3499.9 451.9 3500.1 455.9 3500.3 459.9 3500.4 463.9 3500.6 467.9 3500.7 471.9 3500.9 475.9 3501 479.9 3501.1 483.9 3501.3 487.9 3501.4 491.9 3501.4 495.9 3501.5 499.9 3501.6 503.9 3501.7 507.9 3501.7 511.9 3501.7 515.9 3501.8 519.9 3501.8 523.9 3501.8 527.9 3501.8 531.9 3501.8 535.9 3501.8 539.9 3501.8 543.9 3501.7 547.9 3501.7 551.9 3501.6 555.9 3501.6 559.9 3501.5 563.9 3501.5 567.9 3501.4 571.9 3501.3 575.9 3501.3 579.9 3501.2 583.9 3501.1 587.9 3501 591.9 3500.9 595.9 3500.8 599.9 3500.7 603.9 3500.6 607.9 3500.5 611.9 3500.4 615.9 3500.3 619.9 3500.2 623.9 3500 627.9 3499.9 631.9 3499.8 635.9 3499.6 639.9 3499.5 643.9 3499.3 647.9 3499.2 651.9 3499 655.8 3498.8 659.8 3498.7 663.8 3498.5 667.8 3498.3 671.8 3498.1 675.8 3497.9 679.8 3497.7 683.8 3497.5 687.8 3497.3 691.8 3497.1 695.8 3496.9 699.8 3496.6 703.8 3496.4 707.8 3496.1 711.8 3495.9 715.8 3495.6 719.8 3495.3 723.8 3495 727.7 3494.7 731.7 3494.4 735.7 3494.1 739.7 3493.8 743.7 3493.5 747.7 3493.2 751.7 3492.9 755.7 3492.6 759.7 3492.3 763.6 3492 767.6 3491.7 771.6 3491.4 775.6 3491.1 779.6 3490.8 783.6 3490.5 787.6 3490.3 791.6 3490 795.6 3489.8 799.6 3489.5 803.6 3489.3 807.6 3489.1 811.6 3488.9 815.6 3488.7 819.6 3488.5 823.5 3488.3 827.5 3488.1 831.5 3488 835.5 3487.8 839.5 3487.6 843.5 3487.5 847.5 3487.3 851.5 3487.1 855.5 3487 859.5 3486.8 863.5 3486.7 867.5 3486.5 871.5 3486.3 875.5 3486.1 879.5 3486 883.5 3485.8 887.5 3485.6 891.5 3485.4 895.5 3485.2 899.5 3485 903.5 3484.8 907.5 3484.6 911.5 3484.4 915.5 3484.2 919.5 3484 923.5 3483.7 927.5 3483.5 931.5 3483.3 935.4 3483 939.4 3482.8 943.4 3482.5 947.4 3482.2 951.4 3482 955.4 3481.7 959.4 3481.3 963.4 3481 967.4 3480.7 971.4 3480.3 975.3 3479.9 979.3 3479.5 983.3 3479.1 987.3 3478.7 991.3 3478.3 995.2 3477.8 999.2 3477.4 1003.2 3476.9 1007.2 3476.4 1011.1 3475.9 1015.1 3475.4 1019.1 3474.9 1023 3474.4 1027 3473.9 1031 3473.4 1034.9 3472.8 1038.9 3472.3 1042.8 3471.7 1046.8 3471.1 1050.8 3470.5 1054.7 3469.9 1058.7 3469.3 1062.6 3468.6 1066.6 3467.9 1070.5 3467.2 1074.4 3466.5 1078.3 3465.7 1082.3 3464.9 1086.2 3464 1090.1 3463.1 1094 3462.2 1097.9 3461.3 1101.7 3460.3 1105.6 3459.3 1109.5 3458.3 1113.3 3457.2 1117.2 3456.1 1121 3454.9 1124.8 3453.8 1128.7 3452.6 1132.5 3451.3 1136.3 3450.1 1140 3448.8 1143.8 3447.5 1147.6 3446.1 1151.3 3444.7 1155 3443.2 1158.7 3441.6 1162.3 3439.8 1165.8 3438 1169.3 3435.9 1172.6 3433.7 1175.8 3431.3 1178.9 3428.8 1181.9 3426.1 1184.7 3423.3 1187.5 3420.4 1190.2 3417.4 1192.8 3414.4 1195.3 3411.3 1197.8 3408.2 1200.3 3405 1202.6 3401.8 1204.9 3398.5 1207.1 3395.2 1209.1 3391.7 1211 3388.2 1212.8 3384.6 1214.3 3380.9 1215.7 3377.2 1217 3373.3 1218 3369.5 1219 3365.6 1219.9 3361.7 1220.7 3357.8 1221.5 3353.9 1222.2 3349.9 1223 3346 1223.7 3342.1 1224.4 3338.1 1225.1 3334.2 1225.8 3330.2 1226.4 3326.3 1227.1 3322.4 1227.7 3318.4 1228.3 3314.4 1228.9 3310.5 1229.6 3306.5 1230.2 3302.6 1230.9 3298.7 1231.6 3294.7 1232.3 3290.8 1233 3286.8 1233.7 3282.9 1234.5 3279 1235.2 3275 1235.9 3271.1 1236.6 3267.2 1237.3 3263.2 1238 3259.3 1238.6 3255.3 1239.1 3251.4 1239.7 3247.4 1240.2 3243.4 1240.6 3239.5 1241 3235.5 1241.4 3231.5 1241.8 3227.5 1242.2 3223.5 1242.5 3219.5 1242.8 3215.5 1243.2 3211.6 1243.5 3207.6 1243.7 3203.6 1244 3199.6 1244.3 3195.6 1244.6 3191.6 1244.8 3187.6 1245.1 3183.6 1245.3 3179.6 1245.6 3175.6 1245.8 3171.6 1246.1 3167.6 1246.3 3163.7 1246.6 3159.7 1246.9 3155.7 1247.1 3151.7 1247.4 3147.7 1247.7 3143.7 1247.9 3139.7 1248.2 3135.7 1248.5 3131.7 1248.7 3127.7 1249 3123.7 1249.2 3119.7 1249.5 3115.7 1249.8 3111.8 1250 3107.8 1250.3 3103.8 1250.5 3099.8 1250.8 3095.8 1251 3091.8 1251.2 3087.8 1251.5 3083.8 1251.7 3079.8 1252 3075.8 1252.2 3071.8 1252.4 3067.8 1252.7 3063.8 1252.9 3059.8 1253.1 3055.8 1253.3 3051.8 1253.5 3047.9 1253.7 3043.9 1254 3039.9 1254.2 3035.9 1254.4 3031.9 1254.6 3027.9 1254.8 3023.9 1255 3019.9 1255.2 3015.9 1255.3 3011.9 1255.5 3007.9 1255.7 3003.9 1255.9 2999.9 1256.1 2995.9 1256.3 2991.9 1256.5 2987.9 1256.7 2983.9 1256.9 2979.9 1257.1 2975.9 1257.3 2971.9 1257.5 2967.9 1257.7 2963.9 1257.9 2959.9 1258.1 2955.9 1258.3 2951.9 1258.5 2948 1258.7 2944 1258.9 2940 1259.1 2936 1259.3 2932 1259.5 2928 1259.7 2924 1260 2920 1260.2 2916 1260.4 2912 1260.6 2908 1260.8 2904 1261 2900 1261.2 2896 1261.4 2892 1261.6 2888 1261.8 2884 1262 2880 1262.1 2876 1262.3 2872 1262.5 2868 1262.7 2864 1262.8 2860 1263 2856 1263.2 2852 1263.3 2848 1263.5 2844 1263.6 2840 1263.8 2836.1 1263.9 2832.1 1264.1 2828.1 1264.2 2824.1 1264.4 2820.1 1264.5 2816.1 1264.7 2812.1 1264.8 2808.1 1265 2804.1 1265.1 2800.1 1265.3 2796.1 1265.4 2792.1 1265.6 2788.1 1265.7 2784.1 1265.9 2780.1 1266.1 2776.1 1266.2 2772.1 1266.4 2768.1 1266.6 2764.1 1266.8 2760.1 1266.9 2756.1 1267.1 2752.1 1267.3 2748.1 1267.5 2744.1 1267.6 2740.1 1267.8 2736.1 1268 2732.1 1268.1 2728.1 1268.3 2724.1 1268.5 2720.1 1268.6 2716.1 1268.8 2712.1 1269 2708.1 1269.1 2704.1 1269.3 2700.1 1269.5 2696.1 1269.6 2692.1 1269.8 2688.1 1269.9 2684.1 1270 2680.1 1270.2 2676.1 1270.3 2672.1 1270.5 2668.1 1270.6 2664.1 1270.7 2660.1 1270.9 2656.1 1271 2652.1 1271.1 2648.2 1271.3 2644.2 1271.4 2640.2 1271.6 2636.2 1271.7 2632.2 1271.9 2628.2 1272.1 2624.2 1272.2 2620.2 1272.4 2616.2 1272.6 2612.2 1272.8 2608.2 1273 2604.2 1273.2 2600.2 1273.5 2596.2 1273.7 2592.2 1274 2588.2 1274.2 2584.2 1274.5 2580.2 1274.7 2576.2 1275 2572.2 1275.2 2568.2 1275.5 2564.2 1275.8 2560.3 1276 2556.3 1276.3 2552.3 1276.6 2548.3 1276.8 2544.3 1277.1 2540.3 1277.3 2536.3 1277.6 2532.3 1277.8 2528.3 1278.1 2524.3 1278.3 2520.3 1278.5 2516.3 1278.7 2512.3 1278.9 2508.3 1279.1 2504.3 1279.3 2500.3 1279.5 2496.4 1279.7 2492.4 1279.9 2488.4 1280.1 2484.4 1280.3 2480.4 1280.5 2476.4 1280.7 2472.4 1280.9 2468.4 1281 2464.4 1281.2 2460.4 1281.4 2456.4 1281.6 2452.4 1281.8 2448.4 1282 2444.4 1282.2 2440.4 1282.5 2436.4 1282.7 2432.4 1282.9 2428.4 1283.1 2424.4 1283.4 2420.4 1283.6 2416.4 1283.8 2412.4 1284.1 2408.5 1284.3 2404.5 1284.6 2400.5 1284.9 2396.5 1285.1 2392.5 1285.4 2388.5 1285.7 2384.5 1286 2380.5 1286.2 2376.5 1286.5 2372.5 1286.8 2368.5 1287.1 2364.5 1287.4 2360.6 1287.7 2356.6 1288 2352.6 1288.4 2348.6 1288.7 2344.6 1289 2340.6 1289.4 2336.6 1289.8 2332.6 1290.2 2328.7 1290.7 2324.7 1291.3 2320.7 1292 2316.8 1292.7 2312.9 1293.5 2308.9 1294.4 2305 1295.3 2301.2 1296.4 2297.3 1297.7 2293.5 1299.8 2290.3 1302.8 2292.3 1304.4 2296 1305.6 2299.8 1306.7 2303.6 1307.7 2307.5 1308.6 2311.4 1309.4 2315.3 1310 2319.3 1310.6 2323.2 1311.1 2327.2 1311.5 2331.2 1311.9 2335.2 1312.3 2339.1 1312.6 2343.1 1312.9 2347.1 1313.2 2351.1 1313.5 2355.1 1313.7 2359.1 1314 2363.1 1314.3 2367.1 1314.5 2371.1 1314.8 2375.1 1315.1 2379 1315.4 2383 1315.7 2387 1316 2391 1316.3 2395 1316.6 2399 1317 2403 1317.3 2407 1317.6 2411 1317.9 2414.9 1318.2 2418.9 1318.6 2422.9 1318.9 2426.9 1319.2 2430.9 1319.6 2434.9 1319.9 2438.9 1320.2 2442.9 1320.6 2446.8 1321 2450.8 1321.3 2454.8 1321.7 2458.8 1322.1 2462.8 1322.5 2466.8 1323 2470.7 1323.4 2474.7 1323.8 2478.7 1324.3 2482.7 1324.7 2486.6 1325.1 2490.6 1325.5 2494.6 1325.9 2498.6 1326.3 2502.6 1326.7 2506.5 1327.1 2510.5 1327.4 2514.5 1327.7 2518.5 1328 2522.5 1328.3 2526.5 1328.6 2530.5 1328.8 2534.5 1329 2538.5 1329.3 2542.5 1329.5 2546.5 1329.7 2550.4 1329.9 2554.4 1330.1 2558.4 1330.2 2562.4 1330.4 2566.4 1330.6 2570.4 1330.8 2574.4 1330.9 2578.4 1331.1 2582.4 1331.3 2586.4 1331.5 2590.4 1331.6 2594.4 1331.8 2598.4 1332 2602.4 1332.2 2606.4 1332.4 2610.4 1332.6 2614.4 1332.8 2618.4 1333 2622.4 1333.2 2626.4 1333.4 2630.4 1333.7 2634.4 1333.9 2638.4 1334.1 2642.4 1334.3 2646.4 1334.5 2650.4 1334.7 2654.4 1334.9 2658.3 1335.1 2662.3 1335.3 2666.3 1335.6 2670.3 1335.8 2674.3 1336 2678.3 1336.3 2682.3 1336.5 2686.3 1336.7 2690.3 1337 2694.3 1337.2 2698.3 1337.5 2702.3 1337.8 2706.3 1338 2710.3 1338.3 2714.3 1338.6 2718.2 1338.9 2722.2 1339.3 2726.2 1339.6 2730.2 1339.9 2734.2 1340.2 2738.2 1340.5 2742.2 1340.8 2746.2 1341.1 2750.2 1341.4 2754.1 1341.7 2758.1 1342 2762.1 1342.2 2766.1 1342.5 2770.1 1342.8 2774.1 1343.1 2778.1 1343.3 2782.1 1343.6 2786.1 1343.9 2790.1 1344.1 2794.1 1344.4 2798.1 1344.6 2802 1344.9 2806 1345.1 2810 1345.3 2814 1345.5 2818 1345.8 2822 1346 2826 1346.2 2830 1346.4 2834 1346.7 2838 1346.9 2842 1347.1 2846 1347.4 2850 1347.7 2854 1347.9 2858 1348.2 2862 1348.5 2865.9 1348.7 2869.9 1349 2873.9 1349.2 2877.9 1349.5 2881.9 1349.7 2885.9 1349.9 2889.9 1350.1 2893.9 1350.3 2897.9 1350.5 2901.9 1350.7 2905.9 1350.9 2909.9 1351.1 2913.9 1351.3 2917.9 1351.5 2921.9 1351.7 2925.9 1351.8 2929.9 1352 2933.9 1352.2 2937.9 1352.4 2941.9 1352.6 2945.9 1352.8 2949.9 1353 2953.9 1353.2 2957.8 1353.4 2961.8 1353.6 2965.8 1353.8 2969.8 1354 2973.8 1354.3 2977.8 1354.5 2981.8 1354.8 2985.8 1355 2989.8 1355.3 2993.8 1355.6 2997.8 1355.9 3001.8 1356.2 3005.8 1356.5 3009.8 1356.8 3013.7 1357.1 3017.7 1357.4 3021.7 1357.7 3025.7 1358 3029.7 1358.4 3033.7 1358.7 3037.7 1359.1 3041.7 1359.5 3045.6 1359.8 3049.6 1360.2 3053.6 1360.6 3057.6 1361 3061.6 1361.4 3065.5 1361.9 3069.5 1362.3 3073.5 1362.7 3077.5 1363.1 3081.5 1363.5 3085.4 1363.9 3089.4 1364.3 3093.4 1364.6 3097.4 1365 3101.4 1365.4 3105.4 1365.8 3109.3 1366.2 3113.3 1366.6 3117.3 1367 3121.3 1367.5 3125.3 1367.9 3129.2 1368.3 3133.2 1368.7 3137.2 1369.1 3141.2 1369.6 3145.1 1370.1 3149.1 1370.7 3153.1 1371.4 3157 1372.3 3160.9 1373.3 3164.8 1374.6 3168.6 1375.9 3172.3 1377.2 3176.1 1378.3 3180 1379.1 3183.9 1379.5 3187.9 1379.7 3191.9 1379.8 3195.9 1380 3199.9 1380.4 3203.8 1381.1 3207.8 1381.9 3211.7 1382.8 3215.6 1383.7 3219.5 1384.8 3223.3 1385.9 3227.2 1386.7 3231.1 1387.4 3235.1 1388 3239 1388.5 3243 1389.2 3246.9 1389.9 3250.9 1390.7 3254.8 1391.5 3258.7 1392.4 3262.6 1393.3 3266.5 1394.2 3270.4 1395.1 3274.3 1396 3278.2 1396.9 3282.1 1397.9 3286 1398.8 3289.9 1399.8 3293.7 1400.8 3297.6 1401.8 3301.5 1402.8 3305.4 1403.7 3309.3 1404.7 3313.1 1405.7 3317 1406.7 3320.9 1407.7 3324.7 1408.7 3328.6 1409.8 3332.5 1410.8 3336.4 1411.8 3340.2 1412.9 3344.1 1414 3347.9 1415.1 3351.8 1416.2 3355.6 1417.4 3359.4 1418.6 3363.2 1419.9 3367 1421.2 3370.8 1422.6 3374.6 1424 3378.3 1425.4 3382.1 1426.9 3385.8 1428.4 3389.5 1429.9 3393.2 1431.4 3396.9 1432.9 3400.6 1434.3 3404.4 1435.7 3408.1 1437 3411.9 1438.3 3415.7 1439.6 3419.5 1440.8 3423.3 1442.1 3427.1 1443.4 3430.9 1444.7 3434.6 1446.1 3438.4 1447.6 3442.1 1449.1 3445.8 1450.7 3449.5 1452.3 3453.1 1454.1 3456.7 1455.8 3460.3 1457.6 3463.9 1459.5 3467.4 1461.4 3471 1463.3 3474.5 1465.2 3478 1467.1 3481.5 1468.9 3485 1470.7 3488.6 1472.5 3492.2 1474.3 3495.8 1476.1 3499.4 1477.9 3502.9 1479.9 3506.4 1481.9 3509.8 1484.1 3513.2 1486.3 3516.5 1488.6 3519.8 1491 3523 1493.5 3526.1 1496.1 3529.2 1498.7 3532.2 1501.4 3535.2 1504.3 3538 1507.2 3540.7 1510.2 3543.3 1513.4 3545.7 1516.7 3548 1520.1 3550.2 1523.5 3552.2 1527.1 3554.1 1530.6 3555.9 1534.3 3557.6 1537.9 3559.2 1541.6 3560.6 1545.4 3562 1549.2 3563.2 1553.1 3564.3 1556.9 3565.3 1560.8 3566.2 1564.8 3567 1568.7 3567.8 1572.6 3568.4 1576.6 3569 1580.6 3569.5 1584.5 3569.9 1588.5 3570.2 1592.5 3570.5 1596.5 3570.8 1600.5 3571 1604.5 3571.2 1608.5 3571.3 1612.5 3571.3 1616.5 3571.3 1620.5 3571.2 1624.5 3571.1 1628.5 3571 1632.5 3570.8 1636.5 3570.6 1640.5 3570.4 1644.5 3570.1 1648.5 3569.8 1652.5 3569.5 1656.5 3569.2 1660.4 3568.8 1664.4 3568.4 1668.4 3568 1672.4 3567.6 1676.3 3567.1 1680.3 3566.5 1684.3 3565.9 1688.2 3565.3 1692.2 3564.6 1696.1 3563.9 1700 3563.1 1703.9 3562.4 1707.9 3561.6 1711.8 3560.8 1715.7 3560.1 1719.7 3559.3 1723.6 3558.6 1727.5 3558 1731.5 3557.4 1735.5 3556.8 1739.4 3556.3 1743.4 3555.9 1747.4 3555.5 1751.4 3555.2 1755.4 3554.9 1759.4 3554.6 1763.4 3554.4 1767.4 3554.2 1771.4 3554 1775.3 3553.8 1779.3 3553.6 1783.3 3553.5 1787.3 3553.3 1791.3 3553.2 1795.3 3553.1 1799.3 3553 1803.3 3552.9 1807.3 3552.8 1811.3 3552.7 1815.3 3552.7 1819.3 3552.7 1823.3 3552.7 1827.3 3552.8 1831.3 3552.8 1835.3 3552.9 1839.3 3553 1843.3 3553.2 1847.3 3553.3 1851.3 3553.5 1855.3 3553.7 1859.3 3553.9 1863.3 3554.2 1867.3 3554.4 1871.3 3554.7 1875.3 3554.9 1879.3 3555.2 1883.3 3555.4 1887.3 3555.7 1891.3 3556 1895.3 3556.3 1899.3 3556.5 1903.2 3556.8 1907.2 3557.1 1911.2 3557.5 1915.2 3557.8 1919.2 3558.1 1923.2 3558.5 1927.2 3558.8 1931.1 3559.2 1935.1 3559.5 1939.1 3559.9 1943.1 3560.2 1947.1 3560.5 1951.1 3560.8 1955.1 3561 1959.1 3561.3 1963.1 3561.5 1967.1 3561.6 1971.1 3561.8 1975.1 3561.9 1979.1 3561.9 1983.1 3561.9 1987.1 3561.9 1991.1 3561.9 1995.1 3561.8 1999.1 3561.7 2003.1 3561.6 2007.1 3561.4 2011.1 3561.3 2015.1 3561.1 2019.1 3560.9 2023.1 3560.7 2027.1 3560.5 2031 3560.3 2035 3560.1 2039 3559.9 2043 3559.7 2047 3559.5 2051 3559.3 2055 3559.1 2059 3558.9 2063 3558.7 2067 3558.5 2071 3558.3 2075 3558 2079 3557.8 2083 3557.6 2087 3557.3 2091 3557.1 2095 3556.8 2099 3556.5 2103 3556.3 2106.9 3556 2110.9 3555.8 2114.9 3555.5 2118.9 3555.3 2122.9 3555 2126.9 3554.7 2130.9 3554.5 2134.9 3554.2 2138.9 3553.9 2142.9 3553.7 2146.9 3553.4 2150.9 3553.1 2154.9 3552.8 2158.8 3552.6 2162.8 3552.3 2166.8 3552 2170.8 3551.7 2174.8 3551.5 2178.8 3551.2" fill="none" stroke="#2020ff" stroke-width="5.6" stroke-linejoin="round"/>
<rect x="322.2" y="2157.2" width="1902.1" height="1544.1" fill="none" stroke="#1c1c1c" stroke-width="6"/>
<path d="M322.2 3701.3H292.2M322.2 3508.288H292.2M322.2 3315.275H292.2M322.2 3122.262H292.2M322.2 2929.25H292.2M322.2 2736.237H292.2M322.2 2543.225H292.2M322.2 2350.212H292.2M322.2 2157.2H292.2M322.2 3604.794H307.2M322.2 3411.781H307.2M322.2 3218.769H307.2M322.2 3025.756H307.2M322.2 2832.744H307.2M322.2 2639.731H307.2M322.2 2446.719H307.2M322.2 2253.706H307.2M322.2 3701.3V3731.3M559.962 3701.3V3731.3M797.725 3701.3V3731.3M1035.488 3701.3V3731.3M1273.25 3701.3V3731.3M1511.013 3701.3V3731.3M1748.775 3701.3V3731.3M1986.538 3701.3V3731.3M2224.3 3701.3V3731.3M441.081 3701.3V3716.3M678.844 3701.3V3716.3M916.606 3701.3V3716.3M1154.369 3701.3V3716.3M1392.131 3701.3V3716.3M1629.894 3701.3V3716.3M1867.656 3701.3V3716.3M2105.419 3701.3V3716.3" stroke="#1c1c1c" stroke-width="6" fill="none"/>
<text transform="translate(270 3720) scale(0.957 1)" text-anchor="end" font-size="66.5">0</text>
<text transform="translate(270 3526.988) scale(0.957 1)" text-anchor="end" font-size="66.5">200</text>
<text transform="translate(270 3333.975) scale(0.957 1)" text-anchor="end" font-size="66.5">400</text>
<text transform="translate(270 3140.962) scale(0.957 1)" text-anchor="end" font-size="66.5">600</text>
<text transform="translate(270 2947.95) scale(0.957 1)" text-anchor="end" font-size="66.5">800</text>
<text transform="translate(270 2754.937) scale(0.957 1)" text-anchor="end" font-size="66.5">1000</text>
<text transform="translate(270 2561.925) scale(0.957 1)" text-anchor="end" font-size="66.5">1200</text>
<text transform="translate(270 2368.912) scale(0.957 1)" text-anchor="end" font-size="66.5">1400</text>
<text transform="translate(270 2175.9) scale(0.957 1)" text-anchor="end" font-size="66.5">1600</text>
<text transform="translate(322.2 3802.1) scale(0.957 1)" text-anchor="middle" font-size="66.5">-20</text>
<text transform="translate(559.962 3802.1) scale(0.957 1)" text-anchor="middle" font-size="66.5">0</text>
<text transform="translate(797.725 3802.1) scale(0.957 1)" text-anchor="middle" font-size="66.5">20</text>
<text transform="translate(1035.488 3802.1) scale(0.957 1)" text-anchor="middle" font-size="66.5">40</text>
<text transform="translate(1273.25 3802.1) scale(0.957 1)" text-anchor="middle" font-size="66.5">60</text>
<text transform="translate(1511.013 3802.1) scale(0.957 1)" text-anchor="middle" font-size="66.5">80</text>
<text transform="translate(1748.775 3802.1) scale(0.957 1)" text-anchor="middle" font-size="66.5">100</text>
<text transform="translate(1986.538 3802.1) scale(0.957 1)" text-anchor="middle" font-size="66.5">120</text>
<text transform="translate(2224.3 3802.1) scale(0.957 1)" text-anchor="middle" font-size="66.5">140</text>
<text transform="translate(1237.2 3881.8)" text-anchor="middle" font-size="65.7">Temperature (°C)</text>
<text transform="translate(104 2903.8) rotate(-90) scale(0.989 1)" text-anchor="middle" font-size="66">Loss Modulus (MPa)</text>
<text transform="translate(374 2276) scale(0.917 1)" font-size="72" font-weight="bold">b</text>
<rect x="1741" y="2049.7" width="633" height="311.8" fill="#fff" stroke="#a0a0a0" stroke-width="3.2"/>
<path d="M1749 2089.5H1870.8" stroke="#fa8816" stroke-width="5.5"/>
<text transform="translate(1883.5 2106.5) scale(0.955 1)" font-size="58.5" stroke="#141414" stroke-width="0.8">PLA</text>
<path d="M1749 2159.2H1870.8" stroke="#1c1c1c" stroke-width="5.5"/>
<text transform="translate(1883.5 2178.9) scale(0.955 1)" font-size="58.5" stroke="#141414" stroke-width="0.8">PLA/NT</text>
<path d="M1749 2230.4H1870.8" stroke="#ff1c1c" stroke-width="5.5"/>
<text transform="translate(1883.5 2250.6) scale(0.955 1)" font-size="58.5" stroke="#141414" stroke-width="0.8">PLA/NT<tspan font-weight="bold" font-size="78.975" dx="-1.755" dy="5.85" stroke-width="1.17">-</tspan><tspan dx="-2.34" dy="-5.85">N</tspan><tspan font-size="37.44" dy="16.965">2</tspan></text>
<path d="M1749 2312.4H1870.8" stroke="#2020ff" stroke-width="5.5"/>
<text transform="translate(1883.5 2331.5) scale(0.955 1)" font-size="58.5" stroke="#141414" stroke-width="0.8">PLA/NT<tspan font-weight="bold" font-size="78.975" dx="-1.755" dy="5.85" stroke-width="1.17">-</tspan><tspan dx="-2.34" dy="-5.85">N</tspan><tspan font-size="37.44" dy="16.965">2</tspan><tspan dy="-16.965">/TMCTS</tspan></text>
</svg>
</body></html>
